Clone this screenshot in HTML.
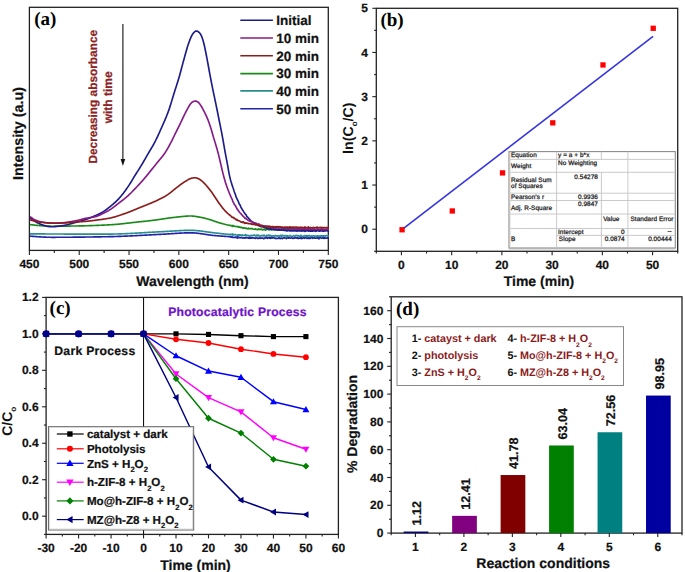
<!DOCTYPE html>
<html><head><meta charset="utf-8"><style>
html,body{margin:0;padding:0;background:#fff;}
svg{display:block;}
</style></head><body>
<svg width="685" height="572" viewBox="0 0 685 572" text-rendering="geometricPrecision">
<rect width="685" height="572" fill="#fff"/>
<rect x="29.4" y="7.3" width="298.9" height="243.1" fill="none" stroke="#222" stroke-width="1.3"/>
<line x1="29.4" y1="250.4" x2="29.4" y2="254.9" stroke="#222" stroke-width="1.1"/>
<line x1="54.31" y1="250.4" x2="54.31" y2="252.9" stroke="#222" stroke-width="1.1"/>
<line x1="79.22" y1="250.4" x2="79.22" y2="254.9" stroke="#222" stroke-width="1.1"/>
<line x1="104.12" y1="250.4" x2="104.12" y2="252.9" stroke="#222" stroke-width="1.1"/>
<line x1="129.03" y1="250.4" x2="129.03" y2="254.9" stroke="#222" stroke-width="1.1"/>
<line x1="153.94" y1="250.4" x2="153.94" y2="252.9" stroke="#222" stroke-width="1.1"/>
<line x1="178.85" y1="250.4" x2="178.85" y2="254.9" stroke="#222" stroke-width="1.1"/>
<line x1="203.76" y1="250.4" x2="203.76" y2="252.9" stroke="#222" stroke-width="1.1"/>
<line x1="228.67" y1="250.4" x2="228.67" y2="254.9" stroke="#222" stroke-width="1.1"/>
<line x1="253.58" y1="250.4" x2="253.58" y2="252.9" stroke="#222" stroke-width="1.1"/>
<line x1="278.48" y1="250.4" x2="278.48" y2="254.9" stroke="#222" stroke-width="1.1"/>
<line x1="303.39" y1="250.4" x2="303.39" y2="252.9" stroke="#222" stroke-width="1.1"/>
<line x1="328.3" y1="250.4" x2="328.3" y2="254.9" stroke="#222" stroke-width="1.1"/>
<text x="29.4" y="267.6" font-size="12" font-weight="bold" fill="#111" text-anchor="middle" font-family="Liberation Sans, sans-serif" stroke="#111" stroke-width="0.22" >450</text>
<text x="79.22" y="267.6" font-size="12" font-weight="bold" fill="#111" text-anchor="middle" font-family="Liberation Sans, sans-serif" stroke="#111" stroke-width="0.22" >500</text>
<text x="129.03" y="267.6" font-size="12" font-weight="bold" fill="#111" text-anchor="middle" font-family="Liberation Sans, sans-serif" stroke="#111" stroke-width="0.22" >550</text>
<text x="178.85" y="267.6" font-size="12" font-weight="bold" fill="#111" text-anchor="middle" font-family="Liberation Sans, sans-serif" stroke="#111" stroke-width="0.22" >600</text>
<text x="228.67" y="267.6" font-size="12" font-weight="bold" fill="#111" text-anchor="middle" font-family="Liberation Sans, sans-serif" stroke="#111" stroke-width="0.22" >650</text>
<text x="278.48" y="267.6" font-size="12" font-weight="bold" fill="#111" text-anchor="middle" font-family="Liberation Sans, sans-serif" stroke="#111" stroke-width="0.22" >700</text>
<text x="328.3" y="267.6" font-size="12" font-weight="bold" fill="#111" text-anchor="middle" font-family="Liberation Sans, sans-serif" stroke="#111" stroke-width="0.22" >750</text>
<text x="192.5" y="285.8" font-size="14" font-weight="bold" fill="#111" text-anchor="middle" font-family="Liberation Sans, sans-serif" stroke="#111" stroke-width="0.22" >Wavelength (nm)</text>
<text x="23.4" y="133.5" font-size="14.3" font-weight="bold" fill="#111" text-anchor="middle" font-family="Liberation Sans, sans-serif" transform="rotate(-90 23.4 133.5)" stroke="#111" stroke-width="0.22" >Intensity (a.u)</text>
<text x="34.2" y="25.1" font-size="19" font-weight="bold" fill="#000" text-anchor="start" font-family="Liberation Serif, serif" >(a)</text>
<path d="M29.9,236.16 L30.4,236.18 L30.9,236.21 L31.4,236.25 L31.9,236.29 L32.4,236.32 L32.9,236.36 L33.4,236.4 L33.9,236.44 L34.4,236.47 L34.9,236.51 L35.4,236.55 L35.9,236.59 L36.4,236.62 L36.9,236.66 L37.4,236.7 L37.9,236.73 L38.4,236.77 L38.9,236.8 L39.4,236.83 L39.9,236.87 L40.4,236.9 L40.9,236.93 L41.4,236.96 L41.9,236.99 L42.4,237.02 L42.9,237.05 L43.4,237.07 L43.9,237.1 L44.4,237.12 L44.9,237.14 L45.4,237.17 L45.9,237.19 L46.4,237.2 L46.9,237.22 L47.4,237.24 L47.9,237.25 L48.4,237.26 L48.9,237.27 L49.4,237.28 L49.9,237.29 L50.4,237.29 L50.9,237.3 L51.4,237.3 L51.9,237.3 L52.4,237.3 L52.9,237.3 L53.4,237.3 L53.9,237.3 L54.4,237.3 L54.9,237.3 L55.4,237.3 L55.9,237.29 L56.4,237.29 L56.9,237.29 L57.4,237.29 L57.9,237.29 L58.4,237.29 L58.9,237.29 L59.4,237.28 L59.9,237.28 L60.4,237.28 L60.9,237.28 L61.4,237.28 L61.9,237.27 L62.4,237.27 L62.9,237.27 L63.4,237.26 L63.9,237.26 L64.4,237.26 L64.9,237.26 L65.4,237.25 L65.9,237.25 L66.4,237.25 L66.9,237.24 L67.4,237.24 L67.9,237.24 L68.4,237.23 L68.9,237.23 L69.4,237.22 L69.9,237.22 L70.4,237.22 L70.9,237.21 L71.4,237.21 L71.9,237.2 L72.4,237.2 L72.9,237.19 L73.4,237.19 L73.9,237.18 L74.4,237.18 L74.9,237.17 L75.4,237.17 L75.9,237.16 L76.4,237.16 L76.9,237.15 L77.4,237.15 L77.9,237.14 L78.4,237.14 L78.9,237.13 L79.4,237.13 L79.9,237.12 L80.4,237.11 L80.9,237.11 L81.4,237.1 L81.9,237.1 L82.4,237.09 L82.9,237.08 L83.4,237.08 L83.9,237.07 L84.4,237.06 L84.9,237.06 L85.4,237.05 L85.9,237.04 L86.4,237.04 L86.9,237.03 L87.4,237.02 L87.9,237.02 L88.4,237.01 L88.9,237 L89.4,237 L89.9,236.99 L90.4,236.98 L90.9,236.97 L91.4,236.97 L91.9,236.96 L92.4,236.95 L92.9,236.95 L93.4,236.94 L93.9,236.93 L94.4,236.92 L94.9,236.91 L95.4,236.91 L95.9,236.9 L96.4,236.89 L96.9,236.88 L97.4,236.88 L97.9,236.87 L98.4,236.86 L98.9,236.85 L99.4,236.84 L99.9,236.84 L100.4,236.83 L100.9,236.82 L101.4,236.81 L101.9,236.8 L102.4,236.79 L102.9,236.79 L103.4,236.78 L103.9,236.77 L104.4,236.76 L104.9,236.75 L105.4,236.74 L105.9,236.74 L106.4,236.73 L106.9,236.72 L107.4,236.71 L107.9,236.7 L108.4,236.69 L108.9,236.68 L109.4,236.67 L109.9,236.66 L110.4,236.65 L110.9,236.64 L111.4,236.63 L111.9,236.62 L112.4,236.61 L112.9,236.59 L113.4,236.58 L113.9,236.57 L114.4,236.55 L114.9,236.54 L115.4,236.52 L115.9,236.51 L116.4,236.49 L116.9,236.48 L117.4,236.46 L117.9,236.44 L118.4,236.42 L118.9,236.41 L119.4,236.39 L119.9,236.37 L120.4,236.35 L120.9,236.33 L121.4,236.31 L121.9,236.3 L122.4,236.28 L122.9,236.26 L123.4,236.23 L123.9,236.21 L124.4,236.19 L124.9,236.17 L125.4,236.15 L125.9,236.13 L126.4,236.11 L126.9,236.08 L127.4,236.06 L127.9,236.04 L128.4,236.02 L128.9,235.99 L129.4,235.97 L129.9,235.95 L130.4,235.92 L130.9,235.9 L131.4,235.87 L131.9,235.85 L132.4,235.82 L132.9,235.8 L133.4,235.77 L133.9,235.75 L134.4,235.72 L134.9,235.7 L135.4,235.67 L135.9,235.65 L136.4,235.62 L136.9,235.6 L137.4,235.57 L137.9,235.54 L138.4,235.52 L138.9,235.49 L139.4,235.46 L139.9,235.44 L140.4,235.41 L140.9,235.38 L141.4,235.36 L141.9,235.33 L142.4,235.3 L142.9,235.28 L143.4,235.25 L143.9,235.22 L144.4,235.2 L144.9,235.17 L145.4,235.14 L145.9,235.11 L146.4,235.09 L146.9,235.06 L147.4,235.03 L147.9,235.01 L148.4,234.98 L148.9,234.95 L149.4,234.92 L149.9,234.9 L150.4,234.87 L150.9,234.84 L151.4,234.82 L151.9,234.79 L152.4,234.76 L152.9,234.74 L153.4,234.71 L153.9,234.68 L154.4,234.66 L154.9,234.63 L155.4,234.61 L155.9,234.58 L156.4,234.55 L156.9,234.53 L157.4,234.5 L157.9,234.48 L158.4,234.45 L158.9,234.43 L159.4,234.4 L159.9,234.38 L160.4,234.35 L160.9,234.33 L161.4,234.3 L161.9,234.28 L162.4,234.25 L162.9,234.23 L163.4,234.2 L163.9,234.17 L164.4,234.14 L164.9,234.12 L165.4,234.09 L165.9,234.06 L166.4,234.02 L166.9,233.99 L167.4,233.96 L167.9,233.93 L168.4,233.9 L168.9,233.86 L169.4,233.83 L169.9,233.79 L170.4,233.76 L170.9,233.73 L171.4,233.69 L171.9,233.66 L172.4,233.62 L172.9,233.59 L173.4,233.56 L173.9,233.52 L174.4,233.49 L174.9,233.46 L175.4,233.42 L175.9,233.39 L176.4,233.36 L176.9,233.33 L177.4,233.29 L177.9,233.26 L178.4,233.23 L178.9,233.2 L179.4,233.17 L179.9,233.15 L180.4,233.12 L180.9,233.09 L181.4,233.07 L181.9,233.04 L182.4,233.02 L182.9,232.99 L183.4,232.97 L183.9,232.95 L184.4,232.93 L184.9,232.91 L185.4,232.9 L185.9,232.88 L186.4,232.87 L186.9,232.85 L187.4,232.84 L187.9,232.83 L188.4,232.82 L188.9,232.81 L189.4,232.81 L189.9,232.8 L190.4,232.8 L190.9,232.8 L191.4,232.81 L191.9,232.82 L192.4,232.83 L192.9,232.85 L193.4,232.88 L193.9,232.91 L194.4,232.94 L194.9,232.98 L195.4,233.02 L195.9,233.06 L196.4,233.11 L196.9,233.16 L197.4,233.22 L197.9,233.28 L198.4,233.34 L198.9,233.4 L199.4,233.47 L199.9,233.53 L200.4,233.6 L200.9,233.68 L201.4,233.75 L201.9,233.82 L202.4,233.9 L202.9,233.98 L203.4,234.05 L203.9,234.13 L204.4,234.21 L204.9,234.29 L205.4,234.37 L205.9,234.45 L206.4,234.52 L206.9,234.6 L207.4,234.68 L207.9,234.75 L208.4,234.83 L208.9,234.9 L209.4,234.97 L209.9,235.04 L210.4,235.1 L210.9,235.17 L211.4,235.23 L211.9,235.29 L212.4,235.35 L212.9,235.4 L213.4,235.45 L213.9,235.5 L214.4,235.54 L214.9,235.59 L215.4,235.63 L215.9,235.67 L216.4,235.71 L216.9,235.76 L217.4,235.8 L217.9,235.84 L218.4,235.88 L218.9,235.91 L219.4,235.95 L219.9,235.99 L220.4,236.03 L220.9,236.06 L221.4,236.1 L221.9,236.14 L222.4,236.17 L222.9,236.21 L223.4,236.24 L223.9,236.28 L224.4,236.31 L224.9,236.35 L225.4,236.38 L225.9,236.42 L226.4,236.45 L226.9,236.49 L227.4,236.52 L227.9,236.55 L228.4,236.59 L228.9,236.62 L229.4,236.66 L229.9,236.69 L230.4,236.68 L230.9,237.27 L231.4,236.97 L231.9,236.59 L232.4,237.38 L232.9,237.42 L233.4,237.31 L233.9,237.28 L234.4,237.45 L234.9,237.28 L235.4,237.4 L235.9,236.9 L236.4,237.74 L236.9,237.34 L237.4,238.01 L237.9,236.63 L238.4,237.64 L238.9,237.78 L239.4,237.35 L239.9,237.67 L240.4,237.82 L240.9,237.8 L241.4,237.44 L241.9,237.62 L242.4,238.06 L242.9,238.18 L243.4,237.8 L243.9,237.83 L244.4,237.9 L244.9,238.22 L245.4,237.51 L245.9,237.44 L246.4,237.97 L246.9,237.55 L247.4,237.75 L247.9,238 L248.4,238.15 L248.9,237.61 L249.4,238.28 L249.9,237.38 L250.4,238.19 L250.9,237.45 L251.4,237.55 L251.9,238.22 L252.4,237.86 L252.9,237.72 L253.4,237.84 L253.9,238.16 L254.4,237.98 L254.9,237.99 L255.4,238.37 L255.9,237.75 L256.4,237.83 L256.9,237.82 L257.4,238.41 L257.9,238.35 L258.4,238.45 L258.9,237.99 L259.4,237.94 L259.9,238.3 L260.4,237.86 L260.9,238.29 L261.4,238.25 L261.9,237.76 L262.4,237.97 L262.9,237.96 L263.4,238.61 L263.9,238.91 L264.4,237.96 L264.9,238 L265.4,237.2 L265.9,238.07 L266.4,238 L266.9,237.62 L267.4,238.27 L267.9,237.45 L268.4,237.92 L268.9,238.05 L269.4,237.56 L269.9,238.3 L270.4,238.37 L270.9,237.51 L271.4,237.51 L271.9,238.21 L272.4,237.99 L272.9,237.57 L273.4,237.89 L273.9,237.96 L274.4,237.95 L274.9,238.29 L275.4,238.13 L275.9,238.62 L276.4,238.48 L276.9,238.23 L277.4,238.37 L277.9,238.46 L278.4,238.24 L278.9,237.57 L279.4,238.3 L279.9,238.02 L280.4,238.56 L280.9,238.03 L281.4,238.18 L281.9,238.11 L282.4,238.58 L282.9,238.05 L283.4,237.9 L283.9,238.1 L284.4,237.84 L284.9,238.05 L285.4,237.99 L285.9,238.09 L286.4,238.66 L286.9,237.85 L287.4,238 L287.9,237.92 L288.4,238.22 L288.9,237.57 L289.4,237.74 L289.9,237.97 L290.4,238.18 L290.9,237.97 L291.4,237.81 L291.9,237.68 L292.4,238.16 L292.9,238.49 L293.4,238.1 L293.9,238.05 L294.4,238.14 L294.9,237.65 L295.4,237.87 L295.9,237.89 L296.4,238.08 L296.9,237.97 L297.4,237.55 L297.9,238.37 L298.4,238.57 L298.9,237.88 L299.4,238.11 L299.9,238.07 L300.4,238.25 L300.9,237.45 L301.4,238.54 L301.9,237.81 L302.4,238.41 L302.9,238 L303.4,237.83 L303.9,237.92 L304.4,238.28 L304.9,237.66 L305.4,237.83 L305.9,237.79 L306.4,237.36 L306.9,238.42 L307.4,238.16 L307.9,237.95 L308.4,238.36 L308.9,237.62 L309.4,237.93 L309.9,238.56 L310.4,238.3 L310.9,237.17 L311.4,236.78 L311.9,237.59 L312.4,238.32 L312.9,237.78 L313.4,237.87 L313.9,238.16 L314.4,237.63 L314.9,238.02 L315.4,238.22 L315.9,238.1 L316.4,238.08 L316.9,237.73 L317.4,238.11 L317.9,237.78 L318.4,238.39 L318.9,238.83 L319.4,237.67 L319.9,237.17 L320.4,237.78 L320.9,238.06 L321.4,238.29 L321.9,238.3 L322.4,237.65 L322.9,237.64 L323.4,238.36 L323.9,237.53 L324.4,238.29 L324.9,237.83 L325.4,238.18 L325.9,238.15 L326.4,238.18 L326.9,238.19 L327.4,237.56 L327.9,238 L328.4,237.9 L328.9,238" fill="none" stroke="#2323a8" stroke-width="1.65" stroke-linejoin="round"/>
<path d="M29.9,233.81 L30.4,233.81 L30.9,233.82 L31.4,233.82 L31.9,233.83 L32.4,233.83 L32.9,233.84 L33.4,233.84 L33.9,233.85 L34.4,233.85 L34.9,233.86 L35.4,233.86 L35.9,233.87 L36.4,233.87 L36.9,233.88 L37.4,233.88 L37.9,233.89 L38.4,233.89 L38.9,233.9 L39.4,233.9 L39.9,233.9 L40.4,233.91 L40.9,233.91 L41.4,233.92 L41.9,233.92 L42.4,233.93 L42.9,233.93 L43.4,233.93 L43.9,233.94 L44.4,233.94 L44.9,233.94 L45.4,233.95 L45.9,233.95 L46.4,233.96 L46.9,233.96 L47.4,233.96 L47.9,233.97 L48.4,233.97 L48.9,233.97 L49.4,233.98 L49.9,233.98 L50.4,233.98 L50.9,233.98 L51.4,233.99 L51.9,233.99 L52.4,233.99 L52.9,234 L53.4,234 L53.9,234 L54.4,234 L54.9,234.01 L55.4,234.01 L55.9,234.01 L56.4,234.02 L56.9,234.02 L57.4,234.02 L57.9,234.02 L58.4,234.02 L58.9,234.03 L59.4,234.03 L59.9,234.03 L60.4,234.03 L60.9,234.04 L61.4,234.04 L61.9,234.04 L62.4,234.04 L62.9,234.04 L63.4,234.05 L63.9,234.05 L64.4,234.05 L64.9,234.05 L65.4,234.05 L65.9,234.05 L66.4,234.06 L66.9,234.06 L67.4,234.06 L67.9,234.06 L68.4,234.06 L68.9,234.06 L69.4,234.06 L69.9,234.07 L70.4,234.07 L70.9,234.07 L71.4,234.07 L71.9,234.07 L72.4,234.07 L72.9,234.07 L73.4,234.07 L73.9,234.08 L74.4,234.08 L74.9,234.08 L75.4,234.08 L75.9,234.08 L76.4,234.08 L76.9,234.08 L77.4,234.08 L77.9,234.08 L78.4,234.08 L78.9,234.08 L79.4,234.09 L79.9,234.09 L80.4,234.09 L80.9,234.09 L81.4,234.09 L81.9,234.09 L82.4,234.09 L82.9,234.09 L83.4,234.09 L83.9,234.09 L84.4,234.09 L84.9,234.09 L85.4,234.09 L85.9,234.09 L86.4,234.09 L86.9,234.09 L87.4,234.09 L87.9,234.09 L88.4,234.1 L88.9,234.1 L89.4,234.1 L89.9,234.1 L90.4,234.1 L90.9,234.1 L91.4,234.1 L91.9,234.1 L92.4,234.1 L92.9,234.1 L93.4,234.1 L93.9,234.1 L94.4,234.1 L94.9,234.1 L95.4,234.1 L95.9,234.1 L96.4,234.1 L96.9,234.1 L97.4,234.1 L97.9,234.1 L98.4,234.1 L98.9,234.1 L99.4,234.1 L99.9,234.1 L100.4,234.1 L100.9,234.1 L101.4,234.1 L101.9,234.1 L102.4,234.1 L102.9,234.1 L103.4,234.1 L103.9,234.1 L104.4,234.1 L104.9,234.1 L105.4,234.1 L105.9,234.1 L106.4,234.1 L106.9,234.1 L107.4,234.1 L107.9,234.1 L108.4,234.1 L108.9,234.1 L109.4,234.1 L109.9,234.09 L110.4,234.09 L110.9,234.09 L111.4,234.08 L111.9,234.08 L112.4,234.07 L112.9,234.06 L113.4,234.05 L113.9,234.04 L114.4,234.04 L114.9,234.03 L115.4,234.02 L115.9,234 L116.4,233.99 L116.9,233.98 L117.4,233.97 L117.9,233.95 L118.4,233.94 L118.9,233.92 L119.4,233.91 L119.9,233.89 L120.4,233.87 L120.9,233.86 L121.4,233.84 L121.9,233.82 L122.4,233.8 L122.9,233.78 L123.4,233.76 L123.9,233.74 L124.4,233.72 L124.9,233.7 L125.4,233.68 L125.9,233.66 L126.4,233.64 L126.9,233.61 L127.4,233.59 L127.9,233.57 L128.4,233.54 L128.9,233.52 L129.4,233.49 L129.9,233.47 L130.4,233.44 L130.9,233.42 L131.4,233.39 L131.9,233.36 L132.4,233.34 L132.9,233.31 L133.4,233.28 L133.9,233.26 L134.4,233.23 L134.9,233.2 L135.4,233.17 L135.9,233.15 L136.4,233.12 L136.9,233.09 L137.4,233.06 L137.9,233.03 L138.4,233 L138.9,232.97 L139.4,232.94 L139.9,232.91 L140.4,232.88 L140.9,232.85 L141.4,232.83 L141.9,232.8 L142.4,232.77 L142.9,232.74 L143.4,232.71 L143.9,232.68 L144.4,232.65 L144.9,232.62 L145.4,232.59 L145.9,232.56 L146.4,232.53 L146.9,232.5 L147.4,232.47 L147.9,232.44 L148.4,232.41 L148.9,232.38 L149.4,232.35 L149.9,232.32 L150.4,232.29 L150.9,232.26 L151.4,232.23 L151.9,232.2 L152.4,232.18 L152.9,232.15 L153.4,232.12 L153.9,232.09 L154.4,232.06 L154.9,232.04 L155.4,232.01 L155.9,231.98 L156.4,231.96 L156.9,231.93 L157.4,231.9 L157.9,231.88 L158.4,231.85 L158.9,231.83 L159.4,231.8 L159.9,231.78 L160.4,231.75 L160.9,231.73 L161.4,231.7 L161.9,231.68 L162.4,231.66 L162.9,231.63 L163.4,231.61 L163.9,231.58 L164.4,231.55 L164.9,231.52 L165.4,231.5 L165.9,231.47 L166.4,231.44 L166.9,231.41 L167.4,231.38 L167.9,231.35 L168.4,231.32 L168.9,231.29 L169.4,231.25 L169.9,231.22 L170.4,231.19 L170.9,231.16 L171.4,231.13 L171.9,231.1 L172.4,231.06 L172.9,231.03 L173.4,231 L173.9,230.97 L174.4,230.94 L174.9,230.91 L175.4,230.88 L175.9,230.85 L176.4,230.82 L176.9,230.79 L177.4,230.76 L177.9,230.73 L178.4,230.7 L178.9,230.67 L179.4,230.65 L179.9,230.62 L180.4,230.59 L180.9,230.57 L181.4,230.55 L181.9,230.52 L182.4,230.5 L182.9,230.48 L183.4,230.46 L183.9,230.44 L184.4,230.42 L184.9,230.4 L185.4,230.39 L185.9,230.37 L186.4,230.36 L186.9,230.35 L187.4,230.34 L187.9,230.33 L188.4,230.32 L188.9,230.31 L189.4,230.31 L189.9,230.3 L190.4,230.3 L190.9,230.3 L191.4,230.31 L191.9,230.32 L192.4,230.33 L192.9,230.34 L193.4,230.36 L193.9,230.39 L194.4,230.42 L194.9,230.45 L195.4,230.48 L195.9,230.52 L196.4,230.56 L196.9,230.61 L197.4,230.65 L197.9,230.7 L198.4,230.76 L198.9,230.81 L199.4,230.87 L199.9,230.93 L200.4,230.99 L200.9,231.05 L201.4,231.12 L201.9,231.18 L202.4,231.25 L202.9,231.32 L203.4,231.39 L203.9,231.46 L204.4,231.53 L204.9,231.6 L205.4,231.67 L205.9,231.74 L206.4,231.82 L206.9,231.89 L207.4,231.96 L207.9,232.03 L208.4,232.1 L208.9,232.17 L209.4,232.24 L209.9,232.31 L210.4,232.37 L210.9,232.44 L211.4,232.5 L211.9,232.57 L212.4,232.63 L212.9,232.69 L213.4,232.74 L213.9,232.8 L214.4,232.85 L214.9,232.91 L215.4,232.97 L215.9,233.02 L216.4,233.08 L216.9,233.14 L217.4,233.19 L217.9,233.25 L218.4,233.31 L218.9,233.37 L219.4,233.43 L219.9,233.49 L220.4,233.55 L220.9,233.6 L221.4,233.66 L221.9,233.72 L222.4,233.78 L222.9,233.83 L223.4,233.89 L223.9,233.94 L224.4,234 L224.9,234.05 L225.4,234.1 L225.9,234.15 L226.4,234.2 L226.9,234.25 L227.4,234.29 L227.9,234.34 L228.4,234.38 L228.9,234.42 L229.4,234.46 L229.9,234.49 L230.4,234.17 L230.9,234.85 L231.4,234.29 L231.9,234.28 L232.4,233.86 L232.9,235.14 L233.4,234.93 L233.9,234.47 L234.4,234.77 L234.9,234.81 L235.4,234.48 L235.9,234.81 L236.4,235.03 L236.9,235.16 L237.4,235.44 L237.9,235.04 L238.4,234.89 L238.9,235.23 L239.4,234.89 L239.9,234.7 L240.4,235.57 L240.9,235.06 L241.4,235.26 L241.9,235.47 L242.4,234.88 L242.9,235.51 L243.4,235.47 L243.9,235.3 L244.4,235.49 L244.9,235.11 L245.4,234.62 L245.9,235.31 L246.4,235.1 L246.9,235.74 L247.4,235.55 L247.9,235.28 L248.4,235.49 L248.9,235.96 L249.4,235.89 L249.9,235.63 L250.4,235.66 L250.9,235.42 L251.4,235.48 L251.9,235.74 L252.4,235.5 L252.9,235.65 L253.4,235.16 L253.9,234.97 L254.4,234.97 L254.9,235.42 L255.4,236.04 L255.9,236 L256.4,235.24 L256.9,235.05 L257.4,235.88 L257.9,235.77 L258.4,235.13 L258.9,235.99 L259.4,235.68 L259.9,236.09 L260.4,235.75 L260.9,235.95 L261.4,235.76 L261.9,235.32 L262.4,235.58 L262.9,235.43 L263.4,235.96 L263.9,235.32 L264.4,235.14 L264.9,235.92 L265.4,236.09 L265.9,236.2 L266.4,236.08 L266.9,235.18 L267.4,235.47 L267.9,235.52 L268.4,235.71 L268.9,234.97 L269.4,235.73 L269.9,235.83 L270.4,235.41 L270.9,235.78 L271.4,236.16 L271.9,235.77 L272.4,236.13 L272.9,236.12 L273.4,235.91 L273.9,235.9 L274.4,235.64 L274.9,236.21 L275.4,235.62 L275.9,235.54 L276.4,236.04 L276.9,235.54 L277.4,235.95 L277.9,236.17 L278.4,235.84 L278.9,235.85 L279.4,236.14 L279.9,236.09 L280.4,235.29 L280.9,235.37 L281.4,236.3 L281.9,235.97 L282.4,235.11 L282.9,235.37 L283.4,235.86 L283.9,235.51 L284.4,236.02 L284.9,235.89 L285.4,236.04 L285.9,235.46 L286.4,236.09 L286.9,236.56 L287.4,235.6 L287.9,236.34 L288.4,236.23 L288.9,236.11 L289.4,235.87 L289.9,235.49 L290.4,235.59 L290.9,236.17 L291.4,236.25 L291.9,236.33 L292.4,236.25 L292.9,236.23 L293.4,235.76 L293.9,235.5 L294.4,235.99 L294.9,236.1 L295.4,235.96 L295.9,235.4 L296.4,235.75 L296.9,235.42 L297.4,235.99 L297.9,235.57 L298.4,235.88 L298.9,236.06 L299.4,235.99 L299.9,236.43 L300.4,235.56 L300.9,235.19 L301.4,236.29 L301.9,236.45 L302.4,236.46 L302.9,236.06 L303.4,236.15 L303.9,236.01 L304.4,235.51 L304.9,235.77 L305.4,236.15 L305.9,235.77 L306.4,236.64 L306.9,235.44 L307.4,235.83 L307.9,236.37 L308.4,235.77 L308.9,235.59 L309.4,235.51 L309.9,235.73 L310.4,236.52 L310.9,236.13 L311.4,236.17 L311.9,235.81 L312.4,236.29 L312.9,236.03 L313.4,235.67 L313.9,235.84 L314.4,236.07 L314.9,236.41 L315.4,235.98 L315.9,236.18 L316.4,236.71 L316.9,235.72 L317.4,235.57 L317.9,236.35 L318.4,236.16 L318.9,235.97 L319.4,236.1 L319.9,235.89 L320.4,236.19 L320.9,235.89 L321.4,236.29 L321.9,235.6 L322.4,235.72 L322.9,236.05 L323.4,235.85 L323.9,236.25 L324.4,236 L324.9,235.82 L325.4,236.09 L325.9,235.83 L326.4,235.47 L326.9,235.62 L327.4,235.73 L327.9,235.85 L328.4,236.05 L328.9,236.33" fill="none" stroke="#2a8e8e" stroke-width="1.65" stroke-linejoin="round"/>
<path d="M29.9,224.6 L30.4,224.64 L30.9,224.7 L31.4,224.76 L31.9,224.82 L32.4,224.88 L32.9,224.94 L33.4,225 L33.9,225.06 L34.4,225.11 L34.9,225.17 L35.4,225.22 L35.9,225.27 L36.4,225.32 L36.9,225.37 L37.4,225.41 L37.9,225.46 L38.4,225.5 L38.9,225.54 L39.4,225.58 L39.9,225.61 L40.4,225.65 L40.9,225.69 L41.4,225.72 L41.9,225.76 L42.4,225.79 L42.9,225.83 L43.4,225.86 L43.9,225.9 L44.4,225.93 L44.9,225.96 L45.4,225.99 L45.9,226.02 L46.4,226.05 L46.9,226.07 L47.4,226.1 L47.9,226.12 L48.4,226.14 L48.9,226.16 L49.4,226.17 L49.9,226.18 L50.4,226.19 L50.9,226.19 L51.4,226.2 L51.9,226.2 L52.4,226.2 L52.9,226.2 L53.4,226.2 L53.9,226.2 L54.4,226.2 L54.9,226.19 L55.4,226.19 L55.9,226.19 L56.4,226.19 L56.9,226.18 L57.4,226.18 L57.9,226.18 L58.4,226.18 L58.9,226.17 L59.4,226.17 L59.9,226.17 L60.4,226.16 L60.9,226.16 L61.4,226.15 L61.9,226.15 L62.4,226.14 L62.9,226.14 L63.4,226.13 L63.9,226.13 L64.4,226.12 L64.9,226.12 L65.4,226.11 L65.9,226.11 L66.4,226.1 L66.9,226.1 L67.4,226.09 L67.9,226.09 L68.4,226.08 L68.9,226.07 L69.4,226.07 L69.9,226.06 L70.4,226.06 L70.9,226.05 L71.4,226.04 L71.9,226.04 L72.4,226.03 L72.9,226.02 L73.4,226.02 L73.9,226.01 L74.4,226 L74.9,226 L75.4,225.99 L75.9,225.98 L76.4,225.98 L76.9,225.97 L77.4,225.96 L77.9,225.95 L78.4,225.94 L78.9,225.93 L79.4,225.92 L79.9,225.91 L80.4,225.9 L80.9,225.89 L81.4,225.88 L81.9,225.87 L82.4,225.86 L82.9,225.85 L83.4,225.83 L83.9,225.82 L84.4,225.81 L84.9,225.8 L85.4,225.78 L85.9,225.77 L86.4,225.76 L86.9,225.74 L87.4,225.73 L87.9,225.71 L88.4,225.7 L88.9,225.68 L89.4,225.67 L89.9,225.65 L90.4,225.63 L90.9,225.62 L91.4,225.6 L91.9,225.58 L92.4,225.57 L92.9,225.55 L93.4,225.53 L93.9,225.51 L94.4,225.49 L94.9,225.47 L95.4,225.46 L95.9,225.44 L96.4,225.42 L96.9,225.4 L97.4,225.38 L97.9,225.36 L98.4,225.34 L98.9,225.32 L99.4,225.29 L99.9,225.27 L100.4,225.25 L100.9,225.23 L101.4,225.21 L101.9,225.19 L102.4,225.16 L102.9,225.14 L103.4,225.12 L103.9,225.09 L104.4,225.07 L104.9,225.05 L105.4,225.02 L105.9,225 L106.4,224.98 L106.9,224.95 L107.4,224.93 L107.9,224.9 L108.4,224.88 L108.9,224.85 L109.4,224.83 L109.9,224.8 L110.4,224.77 L110.9,224.74 L111.4,224.71 L111.9,224.68 L112.4,224.65 L112.9,224.62 L113.4,224.58 L113.9,224.54 L114.4,224.51 L114.9,224.47 L115.4,224.43 L115.9,224.38 L116.4,224.34 L116.9,224.3 L117.4,224.25 L117.9,224.21 L118.4,224.16 L118.9,224.11 L119.4,224.06 L119.9,224.01 L120.4,223.96 L120.9,223.91 L121.4,223.86 L121.9,223.8 L122.4,223.75 L122.9,223.7 L123.4,223.64 L123.9,223.59 L124.4,223.53 L124.9,223.47 L125.4,223.42 L125.9,223.36 L126.4,223.3 L126.9,223.25 L127.4,223.19 L127.9,223.13 L128.4,223.07 L128.9,223.01 L129.4,222.95 L129.9,222.9 L130.4,222.84 L130.9,222.78 L131.4,222.72 L131.9,222.66 L132.4,222.6 L132.9,222.54 L133.4,222.49 L133.9,222.43 L134.4,222.37 L134.9,222.31 L135.4,222.26 L135.9,222.2 L136.4,222.15 L136.9,222.09 L137.4,222.03 L137.9,221.98 L138.4,221.93 L138.9,221.87 L139.4,221.82 L139.9,221.77 L140.4,221.72 L140.9,221.67 L141.4,221.62 L141.9,221.57 L142.4,221.51 L142.9,221.46 L143.4,221.41 L143.9,221.36 L144.4,221.31 L144.9,221.26 L145.4,221.21 L145.9,221.16 L146.4,221.11 L146.9,221.05 L147.4,221 L147.9,220.95 L148.4,220.89 L148.9,220.84 L149.4,220.78 L149.9,220.73 L150.4,220.67 L150.9,220.61 L151.4,220.55 L151.9,220.49 L152.4,220.43 L152.9,220.36 L153.4,220.3 L153.9,220.23 L154.4,220.17 L154.9,220.1 L155.4,220.03 L155.9,219.96 L156.4,219.89 L156.9,219.82 L157.4,219.74 L157.9,219.67 L158.4,219.6 L158.9,219.52 L159.4,219.45 L159.9,219.37 L160.4,219.3 L160.9,219.22 L161.4,219.14 L161.9,219.07 L162.4,218.99 L162.9,218.92 L163.4,218.84 L163.9,218.77 L164.4,218.69 L164.9,218.62 L165.4,218.54 L165.9,218.47 L166.4,218.39 L166.9,218.32 L167.4,218.25 L167.9,218.18 L168.4,218.11 L168.9,218.04 L169.4,217.97 L169.9,217.9 L170.4,217.84 L170.9,217.77 L171.4,217.71 L171.9,217.65 L172.4,217.59 L172.9,217.53 L173.4,217.47 L173.9,217.42 L174.4,217.36 L174.9,217.31 L175.4,217.26 L175.9,217.21 L176.4,217.15 L176.9,217.1 L177.4,217.04 L177.9,216.99 L178.4,216.93 L178.9,216.88 L179.4,216.82 L179.9,216.77 L180.4,216.71 L180.9,216.66 L181.4,216.6 L181.9,216.55 L182.4,216.5 L182.9,216.45 L183.4,216.4 L183.9,216.36 L184.4,216.31 L184.9,216.27 L185.4,216.23 L185.9,216.19 L186.4,216.16 L186.9,216.13 L187.4,216.1 L187.9,216.08 L188.4,216.05 L188.9,216.04 L189.4,216.02 L189.9,216.01 L190.4,216.01 L190.9,216.01 L191.4,216.02 L191.9,216.04 L192.4,216.07 L192.9,216.11 L193.4,216.15 L193.9,216.21 L194.4,216.27 L194.9,216.34 L195.4,216.41 L195.9,216.49 L196.4,216.57 L196.9,216.65 L197.4,216.74 L197.9,216.83 L198.4,216.92 L198.9,217.01 L199.4,217.1 L199.9,217.18 L200.4,217.27 L200.9,217.37 L201.4,217.47 L201.9,217.57 L202.4,217.68 L202.9,217.79 L203.4,217.9 L203.9,218.02 L204.4,218.14 L204.9,218.27 L205.4,218.4 L205.9,218.53 L206.4,218.67 L206.9,218.8 L207.4,218.94 L207.9,219.08 L208.4,219.22 L208.9,219.36 L209.4,219.5 L209.9,219.65 L210.4,219.81 L210.9,219.96 L211.4,220.13 L211.9,220.3 L212.4,220.47 L212.9,220.65 L213.4,220.83 L213.9,221.01 L214.4,221.19 L214.9,221.37 L215.4,221.55 L215.9,221.72 L216.4,221.9 L216.9,222.07 L217.4,222.23 L217.9,222.39 L218.4,222.55 L218.9,222.7 L219.4,222.84 L219.9,222.98 L220.4,223.12 L220.9,223.26 L221.4,223.4 L221.9,223.54 L222.4,223.67 L222.9,223.81 L223.4,223.94 L223.9,224.07 L224.4,224.2 L224.9,224.32 L225.4,224.45 L225.9,224.57 L226.4,224.69 L226.9,224.81 L227.4,224.93 L227.9,225.04 L228.4,225.16 L228.9,225.27 L229.4,225.37 L229.9,225.48 L230.4,225.41 L230.9,225.23 L231.4,225.78 L231.9,226.23 L232.4,226.38 L232.9,225.43 L233.4,225.96 L233.9,226.15 L234.4,226.07 L234.9,226.46 L235.4,226.51 L235.9,226.46 L236.4,226.66 L236.9,226.36 L237.4,226.59 L237.9,226.69 L238.4,227.22 L238.9,226.66 L239.4,227.09 L239.9,227.42 L240.4,227.28 L240.9,227.57 L241.4,227.28 L241.9,227.62 L242.4,227.81 L242.9,228.21 L243.4,227.9 L243.9,228.14 L244.4,227.85 L244.9,227.94 L245.4,228.37 L245.9,228.19 L246.4,228.46 L246.9,228.34 L247.4,228.76 L247.9,228.89 L248.4,228.14 L248.9,228.88 L249.4,228.59 L249.9,228.67 L250.4,228.59 L250.9,228.86 L251.4,228.47 L251.9,228.63 L252.4,228.68 L252.9,229 L253.4,229.22 L253.9,229.23 L254.4,229.19 L254.9,229 L255.4,228.76 L255.9,229.34 L256.4,229.32 L256.9,229.4 L257.4,229.7 L257.9,229.32 L258.4,229.33 L258.9,228.82 L259.4,229.55 L259.9,229.4 L260.4,229.24 L260.9,229.52 L261.4,229.17 L261.9,229.3 L262.4,229.93 L262.9,229.63 L263.4,229.68 L263.9,229.64 L264.4,229.62 L264.9,229.51 L265.4,230.04 L265.9,229.45 L266.4,229.66 L266.9,229.43 L267.4,229.4 L267.9,228.88 L268.4,229.01 L268.9,229.89 L269.4,229.87 L269.9,229.4 L270.4,229.5 L270.9,229.67 L271.4,229.27 L271.9,229.96 L272.4,229.27 L272.9,229.35 L273.4,228.84 L273.9,229.92 L274.4,229.55 L274.9,229.95 L275.4,229.3 L275.9,229.64 L276.4,229.57 L276.9,229.61 L277.4,230.08 L277.9,230.13 L278.4,229.91 L278.9,229.47 L279.4,229.8 L279.9,229.91 L280.4,229.72 L280.9,229.72 L281.4,229.71 L281.9,229.36 L282.4,229.65 L282.9,229.99 L283.4,229.35 L283.9,229.62 L284.4,229.81 L284.9,229.26 L285.4,229.57 L285.9,229.19 L286.4,229.46 L286.9,229.26 L287.4,229.39 L287.9,229.5 L288.4,229.55 L288.9,229.57 L289.4,229.02 L289.9,230.02 L290.4,229.56 L290.9,229.36 L291.4,229.48 L291.9,229.71 L292.4,229.39 L292.9,229.54 L293.4,229.52 L293.9,229.78 L294.4,229.46 L294.9,229.76 L295.4,229.74 L295.9,229.61 L296.4,229.96 L296.9,229.66 L297.4,229.36 L297.9,229.73 L298.4,229.69 L298.9,229.65 L299.4,229.72 L299.9,230.25 L300.4,229.72 L300.9,229.78 L301.4,229.61 L301.9,230 L302.4,229.66 L302.9,229.47 L303.4,229.37 L303.9,229.81 L304.4,229.86 L304.9,229.28 L305.4,229.5 L305.9,229.84 L306.4,229.94 L306.9,229.35 L307.4,229.58 L307.9,229.89 L308.4,229.55 L308.9,229.57 L309.4,229.55 L309.9,229.36 L310.4,229.7 L310.9,229.76 L311.4,229.34 L311.9,229.71 L312.4,229.97 L312.9,229.74 L313.4,229.93 L313.9,229.55 L314.4,230.03 L314.9,229.5 L315.4,230.16 L315.9,229.58 L316.4,229.51 L316.9,229.47 L317.4,229.59 L317.9,229.57 L318.4,229.52 L318.9,229.61 L319.4,229.86 L319.9,229.92 L320.4,229.61 L320.9,230.01 L321.4,229.45 L321.9,229.44 L322.4,229.42 L322.9,229.85 L323.4,229.31 L323.9,229.35 L324.4,230.02 L324.9,230.13 L325.4,230.03 L325.9,229.33 L326.4,229.7 L326.9,229.91 L327.4,229.72 L327.9,229.29 L328.4,229.61 L328.9,229.27" fill="none" stroke="#1a8a1a" stroke-width="1.65" stroke-linejoin="round"/>
<path d="M29.9,217.68 L30.4,217.94 L30.9,218.29 L31.4,218.69 L31.9,219.09 L32.4,219.49 L32.9,219.87 L33.4,220.25 L33.9,220.62 L34.4,220.98 L34.9,221.32 L35.4,221.66 L35.9,221.97 L36.4,222.28 L36.9,222.57 L37.4,222.84 L37.9,223.1 L38.4,223.34 L38.9,223.56 L39.4,223.77 L39.9,223.97 L40.4,224.15 L40.9,224.34 L41.4,224.52 L41.9,224.7 L42.4,224.87 L42.9,225.04 L43.4,225.21 L43.9,225.38 L44.4,225.54 L44.9,225.69 L45.4,225.83 L45.9,225.97 L46.4,226.1 L46.9,226.22 L47.4,226.33 L47.9,226.43 L48.4,226.52 L48.9,226.6 L49.4,226.66 L49.9,226.71 L50.4,226.75 L50.9,226.78 L51.4,226.79 L51.9,226.79 L52.4,226.78 L52.9,226.76 L53.4,226.74 L53.9,226.71 L54.4,226.68 L54.9,226.64 L55.4,226.6 L55.9,226.55 L56.4,226.5 L56.9,226.44 L57.4,226.38 L57.9,226.32 L58.4,226.26 L58.9,226.19 L59.4,226.12 L59.9,226.05 L60.4,225.98 L60.9,225.91 L61.4,225.84 L61.9,225.76 L62.4,225.69 L62.9,225.61 L63.4,225.53 L63.9,225.45 L64.4,225.36 L64.9,225.26 L65.4,225.16 L65.9,225.06 L66.4,224.94 L66.9,224.83 L67.4,224.7 L67.9,224.58 L68.4,224.45 L68.9,224.32 L69.4,224.18 L69.9,224.04 L70.4,223.91 L70.9,223.77 L71.4,223.63 L71.9,223.48 L72.4,223.34 L72.9,223.2 L73.4,223.06 L73.9,222.92 L74.4,222.78 L74.9,222.65 L75.4,222.51 L75.9,222.37 L76.4,222.23 L76.9,222.1 L77.4,221.96 L77.9,221.82 L78.4,221.68 L78.9,221.53 L79.4,221.39 L79.9,221.24 L80.4,221.1 L80.9,220.95 L81.4,220.8 L81.9,220.65 L82.4,220.5 L82.9,220.34 L83.4,220.18 L83.9,220.03 L84.4,219.86 L84.9,219.7 L85.4,219.54 L85.9,219.37 L86.4,219.2 L86.9,219.02 L87.4,218.85 L87.9,218.67 L88.4,218.48 L88.9,218.3 L89.4,218.11 L89.9,217.91 L90.4,217.72 L90.9,217.52 L91.4,217.32 L91.9,217.11 L92.4,216.91 L92.9,216.7 L93.4,216.49 L93.9,216.27 L94.4,216.06 L94.9,215.84 L95.4,215.62 L95.9,215.4 L96.4,215.18 L96.9,214.96 L97.4,214.73 L97.9,214.5 L98.4,214.27 L98.9,214.03 L99.4,213.79 L99.9,213.54 L100.4,213.29 L100.9,213.02 L101.4,212.75 L101.9,212.48 L102.4,212.19 L102.9,211.89 L103.4,211.58 L103.9,211.26 L104.4,210.93 L104.9,210.58 L105.4,210.23 L105.9,209.87 L106.4,209.5 L106.9,209.13 L107.4,208.75 L107.9,208.36 L108.4,207.97 L108.9,207.58 L109.4,207.18 L109.9,206.78 L110.4,206.37 L110.9,205.97 L111.4,205.56 L111.9,205.14 L112.4,204.72 L112.9,204.29 L113.4,203.86 L113.9,203.42 L114.4,202.98 L114.9,202.53 L115.4,202.07 L115.9,201.6 L116.4,201.12 L116.9,200.63 L117.4,200.13 L117.9,199.62 L118.4,199.1 L118.9,198.57 L119.4,198.02 L119.9,197.46 L120.4,196.88 L120.9,196.29 L121.4,195.69 L121.9,195.07 L122.4,194.44 L122.9,193.8 L123.4,193.15 L123.9,192.49 L124.4,191.82 L124.9,191.14 L125.4,190.45 L125.9,189.75 L126.4,189.05 L126.9,188.35 L127.4,187.63 L127.9,186.9 L128.4,186.16 L128.9,185.4 L129.4,184.63 L129.9,183.84 L130.4,183.03 L130.9,182.22 L131.4,181.4 L131.9,180.57 L132.4,179.74 L132.9,178.91 L133.4,178.08 L133.9,177.25 L134.4,176.42 L134.9,175.6 L135.4,174.79 L135.9,173.99 L136.4,173.2 L136.9,172.42 L137.4,171.64 L137.9,170.87 L138.4,170.1 L138.9,169.33 L139.4,168.54 L139.9,167.75 L140.4,166.94 L140.9,166.12 L141.4,165.29 L141.9,164.45 L142.4,163.6 L142.9,162.75 L143.4,161.89 L143.9,161.03 L144.4,160.17 L144.9,159.3 L145.4,158.43 L145.9,157.56 L146.4,156.69 L146.9,155.82 L147.4,154.95 L147.9,154.08 L148.4,153.22 L148.9,152.37 L149.4,151.52 L149.9,150.68 L150.4,149.84 L150.9,149.01 L151.4,148.18 L151.9,147.34 L152.4,146.49 L152.9,145.62 L153.4,144.75 L153.9,143.85 L154.4,142.92 L154.9,141.98 L155.4,141 L155.9,140 L156.4,138.98 L156.9,137.93 L157.4,136.86 L157.9,135.78 L158.4,134.69 L158.9,133.58 L159.4,132.47 L159.9,131.35 L160.4,130.23 L160.9,129.11 L161.4,127.99 L161.9,126.87 L162.4,125.75 L162.9,124.63 L163.4,123.5 L163.9,122.36 L164.4,121.21 L164.9,120.05 L165.4,118.86 L165.9,117.66 L166.4,116.44 L166.9,115.19 L167.4,113.91 L167.9,112.6 L168.4,111.25 L168.9,109.85 L169.4,108.4 L169.9,106.88 L170.4,105.32 L170.9,103.7 L171.4,102.05 L171.9,100.38 L172.4,98.71 L172.9,97.04 L173.4,95.39 L173.9,93.76 L174.4,92.16 L174.9,90.58 L175.4,89.02 L175.9,87.47 L176.4,85.92 L176.9,84.37 L177.4,82.8 L177.9,81.2 L178.4,79.57 L178.9,77.9 L179.4,76.18 L179.9,74.41 L180.4,72.58 L180.9,70.71 L181.4,68.81 L181.9,66.91 L182.4,65.01 L182.9,63.14 L183.4,61.28 L183.9,59.45 L184.4,57.62 L184.9,55.8 L185.4,53.98 L185.9,52.19 L186.4,50.43 L186.9,48.72 L187.4,47.08 L187.9,45.51 L188.4,44.02 L188.9,42.6 L189.4,41.22 L189.9,39.89 L190.4,38.61 L190.9,37.41 L191.4,36.3 L191.9,35.3 L192.4,34.45 L192.9,33.71 L193.4,33.08 L193.9,32.52 L194.4,32.03 L194.9,31.62 L195.4,31.31 L195.9,31.11 L196.4,31.05 L196.9,31.1 L197.4,31.26 L197.9,31.52 L198.4,31.85 L198.9,32.25 L199.4,32.72 L199.9,33.27 L200.4,33.94 L200.9,34.78 L201.4,35.83 L201.9,37.09 L202.4,38.53 L202.9,40.11 L203.4,41.83 L203.9,43.72 L204.4,45.8 L204.9,48.06 L205.4,50.47 L205.9,52.97 L206.4,55.53 L206.9,58.13 L207.4,60.79 L207.9,63.5 L208.4,66.25 L208.9,69.01 L209.4,71.75 L209.9,74.46 L210.4,77.13 L210.9,79.77 L211.4,82.37 L211.9,84.92 L212.4,87.41 L212.9,89.84 L213.4,92.22 L213.9,94.58 L214.4,96.95 L214.9,99.33 L215.4,101.73 L215.9,104.15 L216.4,106.58 L216.9,109.02 L217.4,111.49 L217.9,113.98 L218.4,116.48 L218.9,118.98 L219.4,121.48 L219.9,123.96 L220.4,126.44 L220.9,128.91 L221.4,131.41 L221.9,133.96 L222.4,136.62 L222.9,139.38 L223.4,142.24 L223.9,145.15 L224.4,148.03 L224.9,150.85 L225.4,153.56 L225.9,156.19 L226.4,158.79 L226.9,161.43 L227.4,164.15 L227.9,166.97 L228.4,169.82 L228.9,172.57 L229.4,175.08 L229.9,177.31 L230.4,179.46 L230.9,181.22 L231.4,182.79 L231.9,184.39 L232.4,185.92 L232.9,187.46 L233.4,188.73 L233.9,190.41 L234.4,191.95 L234.9,193.2 L235.4,194.52 L235.9,196.44 L236.4,197.49 L236.9,198.56 L237.4,199.72 L237.9,200.43 L238.4,201.76 L238.9,203.05 L239.4,204.37 L239.9,204.68 L240.4,205.91 L240.9,207.35 L241.4,208 L241.9,208.81 L242.4,209.81 L242.9,210.36 L243.4,211.14 L243.9,212.08 L244.4,212.86 L244.9,213.21 L245.4,214.45 L245.9,214.51 L246.4,215.41 L246.9,216.83 L247.4,216.77 L247.9,217.63 L248.4,217.9 L248.9,218.6 L249.4,219.06 L249.9,219.64 L250.4,220.32 L250.9,220.99 L251.4,221.24 L251.9,221.78 L252.4,221.75 L252.9,222.52 L253.4,222.7 L253.9,223.2 L254.4,223.16 L254.9,223.51 L255.4,224.12 L255.9,224.25 L256.4,224.42 L256.9,224.51 L257.4,224.88 L257.9,225.23 L258.4,225.52 L258.9,225.49 L259.4,225.76 L259.9,226.13 L260.4,226.03 L260.9,226.65 L261.4,226.65 L261.9,226.82 L262.4,226.55 L262.9,226.89 L263.4,227.16 L263.9,227.41 L264.4,227.46 L264.9,227.89 L265.4,227.97 L265.9,228.01 L266.4,227.76 L266.9,228.55 L267.4,228.32 L267.9,228.58 L268.4,228.42 L268.9,228.64 L269.4,228.87 L269.9,228.86 L270.4,229.08 L270.9,228.93 L271.4,229.44 L271.9,228.74 L272.4,229.07 L272.9,229.45 L273.4,229.27 L273.9,229.29 L274.4,229.09 L274.9,229.74 L275.4,229.18 L275.9,229.72 L276.4,229.71 L276.9,229.9 L277.4,230.06 L277.9,229.68 L278.4,229.71 L278.9,229.85 L279.4,229.61 L279.9,230.16 L280.4,229.96 L280.9,230.11 L281.4,229.89 L281.9,230.16 L282.4,230.07 L282.9,230.22 L283.4,230.05 L283.9,230.52 L284.4,230.22 L284.9,229.88 L285.4,230.55 L285.9,230.4 L286.4,230.32 L286.9,231.03 L287.4,230.56 L287.9,230.33 L288.4,230.51 L288.9,230.74 L289.4,230.65 L289.9,230.97 L290.4,230.96 L290.9,230.61 L291.4,230.8 L291.9,230.94 L292.4,230.75 L292.9,230.75 L293.4,231.03 L293.9,230.96 L294.4,230.6 L294.9,230.78 L295.4,230.81 L295.9,230.87 L296.4,230.75 L296.9,231.16 L297.4,230.7 L297.9,230.67 L298.4,230.93 L298.9,230.44 L299.4,230.69 L299.9,231.02 L300.4,230.63 L300.9,230.72 L301.4,231.11 L301.9,230.98 L302.4,230.9 L302.9,230.94 L303.4,230.76 L303.9,230.95 L304.4,230.85 L304.9,231.39 L305.4,231 L305.9,230.83 L306.4,230.88 L306.9,230.9 L307.4,230.62 L307.9,230.73 L308.4,231.2 L308.9,230.61 L309.4,230.78 L309.9,231.1 L310.4,231.2 L310.9,230.69 L311.4,231.19 L311.9,230.82 L312.4,231.23 L312.9,231 L313.4,230.84 L313.9,231.04 L314.4,231.01 L314.9,230.74 L315.4,231.33 L315.9,230.83 L316.4,231.13 L316.9,230.8 L317.4,230.53 L317.9,230.67 L318.4,230.88 L318.9,231.03 L319.4,231.25 L319.9,230.91 L320.4,230.84 L320.9,230.65 L321.4,230.89 L321.9,230.96 L322.4,230.45 L322.9,231.16 L323.4,231.12 L323.9,231.35 L324.4,230.71 L324.9,230.9 L325.4,230.9 L325.9,230.63 L326.4,230.73 L326.9,230.7 L327.4,231 L327.9,230.98 L328.4,231.17 L328.9,230.82" fill="none" stroke="#1c1c8a" stroke-width="1.65" stroke-linejoin="round"/>
<path d="M29.9,216.64 L30.4,216.89 L30.9,217.22 L31.4,217.58 L31.9,217.94 L32.4,218.29 L32.9,218.62 L33.4,218.93 L33.9,219.22 L34.4,219.49 L34.9,219.74 L35.4,219.97 L35.9,220.19 L36.4,220.4 L36.9,220.6 L37.4,220.8 L37.9,220.99 L38.4,221.16 L38.9,221.33 L39.4,221.49 L39.9,221.63 L40.4,221.76 L40.9,221.88 L41.4,221.98 L41.9,222.07 L42.4,222.16 L42.9,222.23 L43.4,222.31 L43.9,222.38 L44.4,222.45 L44.9,222.52 L45.4,222.58 L45.9,222.65 L46.4,222.71 L46.9,222.77 L47.4,222.83 L47.9,222.88 L48.4,222.93 L48.9,222.98 L49.4,223.03 L49.9,223.07 L50.4,223.11 L50.9,223.15 L51.4,223.18 L51.9,223.21 L52.4,223.23 L52.9,223.25 L53.4,223.27 L53.9,223.28 L54.4,223.29 L54.9,223.29 L55.4,223.29 L55.9,223.29 L56.4,223.28 L56.9,223.26 L57.4,223.24 L57.9,223.22 L58.4,223.19 L58.9,223.16 L59.4,223.13 L59.9,223.09 L60.4,223.05 L60.9,223 L61.4,222.95 L61.9,222.9 L62.4,222.85 L62.9,222.79 L63.4,222.73 L63.9,222.67 L64.4,222.61 L64.9,222.54 L65.4,222.47 L65.9,222.4 L66.4,222.33 L66.9,222.25 L67.4,222.18 L67.9,222.1 L68.4,222.03 L68.9,221.95 L69.4,221.87 L69.9,221.79 L70.4,221.71 L70.9,221.62 L71.4,221.54 L71.9,221.46 L72.4,221.38 L72.9,221.29 L73.4,221.21 L73.9,221.13 L74.4,221.05 L74.9,220.96 L75.4,220.87 L75.9,220.77 L76.4,220.67 L76.9,220.56 L77.4,220.45 L77.9,220.33 L78.4,220.21 L78.9,220.08 L79.4,219.95 L79.9,219.82 L80.4,219.68 L80.9,219.55 L81.4,219.41 L81.9,219.28 L82.4,219.15 L82.9,219.02 L83.4,218.89 L83.9,218.76 L84.4,218.64 L84.9,218.52 L85.4,218.41 L85.9,218.31 L86.4,218.21 L86.9,218.11 L87.4,218.03 L87.9,217.95 L88.4,217.87 L88.9,217.8 L89.4,217.73 L89.9,217.66 L90.4,217.59 L90.9,217.52 L91.4,217.45 L91.9,217.37 L92.4,217.29 L92.9,217.21 L93.4,217.12 L93.9,217.03 L94.4,216.92 L94.9,216.81 L95.4,216.68 L95.9,216.54 L96.4,216.39 L96.9,216.21 L97.4,216.03 L97.9,215.84 L98.4,215.63 L98.9,215.42 L99.4,215.19 L99.9,214.97 L100.4,214.74 L100.9,214.5 L101.4,214.27 L101.9,214.03 L102.4,213.8 L102.9,213.56 L103.4,213.32 L103.9,213.08 L104.4,212.83 L104.9,212.58 L105.4,212.32 L105.9,212.06 L106.4,211.79 L106.9,211.52 L107.4,211.24 L107.9,210.95 L108.4,210.66 L108.9,210.37 L109.4,210.06 L109.9,209.75 L110.4,209.43 L110.9,209.11 L111.4,208.77 L111.9,208.42 L112.4,208.06 L112.9,207.7 L113.4,207.33 L113.9,206.95 L114.4,206.57 L114.9,206.18 L115.4,205.79 L115.9,205.4 L116.4,205 L116.9,204.61 L117.4,204.22 L117.9,203.82 L118.4,203.44 L118.9,203.05 L119.4,202.66 L119.9,202.28 L120.4,201.9 L120.9,201.52 L121.4,201.14 L121.9,200.75 L122.4,200.37 L122.9,199.98 L123.4,199.59 L123.9,199.19 L124.4,198.8 L124.9,198.39 L125.4,197.98 L125.9,197.57 L126.4,197.15 L126.9,196.72 L127.4,196.28 L127.9,195.83 L128.4,195.38 L128.9,194.91 L129.4,194.44 L129.9,193.96 L130.4,193.47 L130.9,192.98 L131.4,192.48 L131.9,191.97 L132.4,191.46 L132.9,190.95 L133.4,190.43 L133.9,189.91 L134.4,189.39 L134.9,188.86 L135.4,188.34 L135.9,187.81 L136.4,187.29 L136.9,186.76 L137.4,186.23 L137.9,185.7 L138.4,185.16 L138.9,184.62 L139.4,184.08 L139.9,183.54 L140.4,182.99 L140.9,182.44 L141.4,181.89 L141.9,181.33 L142.4,180.77 L142.9,180.2 L143.4,179.63 L143.9,179.06 L144.4,178.48 L144.9,177.89 L145.4,177.3 L145.9,176.7 L146.4,176.1 L146.9,175.48 L147.4,174.87 L147.9,174.25 L148.4,173.62 L148.9,173 L149.4,172.37 L149.9,171.75 L150.4,171.13 L150.9,170.51 L151.4,169.88 L151.9,169.26 L152.4,168.64 L152.9,168.02 L153.4,167.4 L153.9,166.78 L154.4,166.16 L154.9,165.53 L155.4,164.91 L155.9,164.29 L156.4,163.67 L156.9,163.05 L157.4,162.43 L157.9,161.82 L158.4,161.21 L158.9,160.61 L159.4,160.02 L159.9,159.43 L160.4,158.83 L160.9,158.24 L161.4,157.64 L161.9,157.02 L162.4,156.4 L162.9,155.76 L163.4,155.1 L163.9,154.42 L164.4,153.71 L164.9,152.98 L165.4,152.21 L165.9,151.42 L166.4,150.61 L166.9,149.77 L167.4,148.91 L167.9,148.04 L168.4,147.15 L168.9,146.25 L169.4,145.34 L169.9,144.41 L170.4,143.47 L170.9,142.51 L171.4,141.53 L171.9,140.54 L172.4,139.53 L172.9,138.53 L173.4,137.51 L173.9,136.5 L174.4,135.49 L174.9,134.48 L175.4,133.46 L175.9,132.45 L176.4,131.43 L176.9,130.41 L177.4,129.39 L177.9,128.38 L178.4,127.36 L178.9,126.35 L179.4,125.33 L179.9,124.31 L180.4,123.28 L180.9,122.24 L181.4,121.18 L181.9,120.11 L182.4,119.03 L182.9,117.96 L183.4,116.89 L183.9,115.83 L184.4,114.78 L184.9,113.76 L185.4,112.77 L185.9,111.81 L186.4,110.88 L186.9,109.96 L187.4,109.05 L187.9,108.14 L188.4,107.24 L188.9,106.36 L189.4,105.52 L189.9,104.74 L190.4,104.03 L190.9,103.42 L191.4,102.91 L191.9,102.48 L192.4,102.13 L192.9,101.83 L193.4,101.58 L193.9,101.37 L194.4,101.21 L194.9,101.11 L195.4,101.09 L195.9,101.15 L196.4,101.28 L196.9,101.47 L197.4,101.71 L197.9,102.02 L198.4,102.4 L198.9,102.89 L199.4,103.47 L199.9,104.15 L200.4,104.88 L200.9,105.65 L201.4,106.45 L201.9,107.29 L202.4,108.17 L202.9,109.09 L203.4,110.03 L203.9,111.01 L204.4,112 L204.9,113.02 L205.4,114.05 L205.9,115.11 L206.4,116.2 L206.9,117.32 L207.4,118.48 L207.9,119.69 L208.4,120.95 L208.9,122.27 L209.4,123.67 L209.9,125.16 L210.4,126.73 L210.9,128.37 L211.4,130.07 L211.9,131.8 L212.4,133.54 L212.9,135.26 L213.4,136.95 L213.9,138.62 L214.4,140.25 L214.9,141.88 L215.4,143.51 L215.9,145.15 L216.4,146.83 L216.9,148.56 L217.4,150.36 L217.9,152.22 L218.4,154.16 L218.9,156.17 L219.4,158.24 L219.9,160.34 L220.4,162.46 L220.9,164.61 L221.4,166.77 L221.9,168.94 L222.4,171.09 L222.9,173.16 L223.4,175.14 L223.9,177.02 L224.4,178.82 L224.9,180.53 L225.4,182.17 L225.9,183.74 L226.4,185.24 L226.9,186.69 L227.4,188.08 L227.9,189.42 L228.4,190.72 L228.9,191.99 L229.4,193.23 L229.9,194.45 L230.4,195.61 L230.9,197.1 L231.4,197.73 L231.9,198.89 L232.4,199.93 L232.9,201.65 L233.4,202.36 L233.9,203.31 L234.4,204.59 L234.9,205.13 L235.4,205.52 L235.9,206.72 L236.4,207.41 L236.9,208.9 L237.4,208.98 L237.9,210.09 L238.4,210.66 L238.9,211.37 L239.4,212.13 L239.9,212.73 L240.4,213.21 L240.9,213.67 L241.4,214.34 L241.9,214.79 L242.4,215.33 L242.9,216.05 L243.4,216.48 L243.9,217.08 L244.4,217.38 L244.9,218.27 L245.4,218.13 L245.9,218.47 L246.4,219.26 L246.9,219.26 L247.4,219.76 L247.9,220.25 L248.4,220.31 L248.9,220.53 L249.4,221.06 L249.9,221.17 L250.4,221.22 L250.9,221.3 L251.4,221.68 L251.9,221.62 L252.4,221.98 L252.9,222.12 L253.4,222.59 L253.9,222.86 L254.4,222.75 L254.9,222.96 L255.4,222.99 L255.9,223.11 L256.4,223.47 L256.9,223.85 L257.4,224 L257.9,224.2 L258.4,224.19 L258.9,223.84 L259.4,224.77 L259.9,225.01 L260.4,225.09 L260.9,225.24 L261.4,225.43 L261.9,225.91 L262.4,225.56 L262.9,225.96 L263.4,225.93 L263.9,226.03 L264.4,225.98 L264.9,226.04 L265.4,225.98 L265.9,226.43 L266.4,226.34 L266.9,226.24 L267.4,226.42 L267.9,226.42 L268.4,227.08 L268.9,226.78 L269.4,226.93 L269.9,226.74 L270.4,226.85 L270.9,227.36 L271.4,227.17 L271.9,227.33 L272.4,227.74 L272.9,227.86 L273.4,227.64 L273.9,227.66 L274.4,227.67 L274.9,227.62 L275.4,228.16 L275.9,227.54 L276.4,227.82 L276.9,227.49 L277.4,227.67 L277.9,228.07 L278.4,228.12 L278.9,228.13 L279.4,228.03 L279.9,227.98 L280.4,228.05 L280.9,228.11 L281.4,228.44 L281.9,228.54 L282.4,228.35 L282.9,228.17 L283.4,228.11 L283.9,228.39 L284.4,228.31 L284.9,228 L285.4,228.68 L285.9,228.42 L286.4,228.38 L286.9,228.28 L287.4,228.3 L287.9,228.69 L288.4,228.33 L288.9,228.57 L289.4,228.7 L289.9,228.97 L290.4,228.73 L290.9,228.62 L291.4,228.56 L291.9,228.85 L292.4,228.9 L292.9,228.62 L293.4,228.85 L293.9,228.72 L294.4,228.42 L294.9,228.57 L295.4,228.97 L295.9,229.12 L296.4,228.97 L296.9,228.81 L297.4,228.72 L297.9,229 L298.4,228.97 L298.9,228.58 L299.4,229.07 L299.9,228.8 L300.4,229.1 L300.9,229.09 L301.4,229.14 L301.9,229.23 L302.4,229.17 L302.9,228.82 L303.4,228.84 L303.9,229.28 L304.4,229.18 L304.9,228.76 L305.4,228.69 L305.9,229.3 L306.4,229.59 L306.9,229.31 L307.4,229.1 L307.9,229.22 L308.4,228.61 L308.9,228.98 L309.4,229.41 L309.9,229.39 L310.4,228.78 L310.9,229.48 L311.4,229.35 L311.9,229.44 L312.4,229.22 L312.9,229.27 L313.4,229.05 L313.9,229.35 L314.4,229.48 L314.9,229.1 L315.4,229.38 L315.9,229.2 L316.4,229.54 L316.9,229.53 L317.4,228.84 L317.9,229.43 L318.4,229.56 L318.9,229.24 L319.4,229.31 L319.9,229.33 L320.4,229.13 L320.9,229.35 L321.4,229.7 L321.9,229.48 L322.4,229.7 L322.9,229.59 L323.4,229.64 L323.9,229.42 L324.4,229.55 L324.9,229.81 L325.4,229.7 L325.9,229.47 L326.4,229.25 L326.9,229.21 L327.4,229.45 L327.9,229.49 L328.4,229.02 L328.9,229.45" fill="none" stroke="#861a88" stroke-width="1.65" stroke-linejoin="round"/>
<path d="M29.9,219.85 L30.4,219.95 L30.9,220.08 L31.4,220.22 L31.9,220.37 L32.4,220.52 L32.9,220.66 L33.4,220.8 L33.9,220.94 L34.4,221.07 L34.9,221.19 L35.4,221.31 L35.9,221.43 L36.4,221.54 L36.9,221.64 L37.4,221.74 L37.9,221.83 L38.4,221.91 L38.9,221.99 L39.4,222.06 L39.9,222.12 L40.4,222.18 L40.9,222.24 L41.4,222.3 L41.9,222.35 L42.4,222.41 L42.9,222.46 L43.4,222.52 L43.9,222.57 L44.4,222.62 L44.9,222.66 L45.4,222.71 L45.9,222.75 L46.4,222.79 L46.9,222.83 L47.4,222.86 L47.9,222.89 L48.4,222.92 L48.9,222.94 L49.4,222.96 L49.9,222.97 L50.4,222.99 L50.9,222.99 L51.4,223 L51.9,223 L52.4,223 L52.9,223 L53.4,223 L53.9,223 L54.4,223 L54.9,223 L55.4,223 L55.9,223 L56.4,223 L56.9,223 L57.4,223 L57.9,223 L58.4,223 L58.9,223 L59.4,223 L59.9,223 L60.4,223 L60.9,223 L61.4,223 L61.9,223 L62.4,223 L62.9,223 L63.4,222.99 L63.9,222.98 L64.4,222.97 L64.9,222.95 L65.4,222.93 L65.9,222.9 L66.4,222.86 L66.9,222.83 L67.4,222.79 L67.9,222.74 L68.4,222.7 L68.9,222.65 L69.4,222.6 L69.9,222.55 L70.4,222.5 L70.9,222.45 L71.4,222.4 L71.9,222.35 L72.4,222.3 L72.9,222.25 L73.4,222.21 L73.9,222.17 L74.4,222.13 L74.9,222.09 L75.4,222.05 L75.9,222.02 L76.4,221.98 L76.9,221.95 L77.4,221.92 L77.9,221.89 L78.4,221.86 L78.9,221.82 L79.4,221.79 L79.9,221.76 L80.4,221.73 L80.9,221.7 L81.4,221.67 L81.9,221.63 L82.4,221.6 L82.9,221.57 L83.4,221.53 L83.9,221.5 L84.4,221.46 L84.9,221.42 L85.4,221.38 L85.9,221.34 L86.4,221.3 L86.9,221.25 L87.4,221.21 L87.9,221.16 L88.4,221.11 L88.9,221.05 L89.4,221 L89.9,220.94 L90.4,220.89 L90.9,220.83 L91.4,220.77 L91.9,220.7 L92.4,220.64 L92.9,220.58 L93.4,220.51 L93.9,220.45 L94.4,220.38 L94.9,220.32 L95.4,220.25 L95.9,220.18 L96.4,220.12 L96.9,220.05 L97.4,219.98 L97.9,219.91 L98.4,219.85 L98.9,219.78 L99.4,219.71 L99.9,219.65 L100.4,219.58 L100.9,219.52 L101.4,219.45 L101.9,219.38 L102.4,219.31 L102.9,219.24 L103.4,219.17 L103.9,219.1 L104.4,219.03 L104.9,218.96 L105.4,218.88 L105.9,218.8 L106.4,218.72 L106.9,218.64 L107.4,218.56 L107.9,218.47 L108.4,218.38 L108.9,218.29 L109.4,218.19 L109.9,218.1 L110.4,217.99 L110.9,217.88 L111.4,217.77 L111.9,217.65 L112.4,217.53 L112.9,217.4 L113.4,217.27 L113.9,217.13 L114.4,216.99 L114.9,216.85 L115.4,216.7 L115.9,216.55 L116.4,216.4 L116.9,216.24 L117.4,216.08 L117.9,215.92 L118.4,215.76 L118.9,215.59 L119.4,215.42 L119.9,215.26 L120.4,215.09 L120.9,214.91 L121.4,214.74 L121.9,214.57 L122.4,214.4 L122.9,214.22 L123.4,214.05 L123.9,213.88 L124.4,213.7 L124.9,213.53 L125.4,213.35 L125.9,213.17 L126.4,212.99 L126.9,212.81 L127.4,212.62 L127.9,212.44 L128.4,212.24 L128.9,212.05 L129.4,211.86 L129.9,211.66 L130.4,211.46 L130.9,211.26 L131.4,211.06 L131.9,210.86 L132.4,210.65 L132.9,210.45 L133.4,210.24 L133.9,210.04 L134.4,209.83 L134.9,209.62 L135.4,209.42 L135.9,209.21 L136.4,209 L136.9,208.8 L137.4,208.59 L137.9,208.39 L138.4,208.19 L138.9,207.98 L139.4,207.78 L139.9,207.58 L140.4,207.38 L140.9,207.18 L141.4,206.98 L141.9,206.78 L142.4,206.59 L142.9,206.39 L143.4,206.19 L143.9,205.99 L144.4,205.79 L144.9,205.59 L145.4,205.39 L145.9,205.19 L146.4,204.99 L146.9,204.78 L147.4,204.58 L147.9,204.37 L148.4,204.17 L148.9,203.96 L149.4,203.75 L149.9,203.54 L150.4,203.33 L150.9,203.12 L151.4,202.91 L151.9,202.7 L152.4,202.48 L152.9,202.27 L153.4,202.06 L153.9,201.84 L154.4,201.62 L154.9,201.4 L155.4,201.18 L155.9,200.96 L156.4,200.73 L156.9,200.5 L157.4,200.27 L157.9,200.03 L158.4,199.79 L158.9,199.55 L159.4,199.3 L159.9,199.05 L160.4,198.8 L160.9,198.55 L161.4,198.29 L161.9,198.03 L162.4,197.77 L162.9,197.5 L163.4,197.23 L163.9,196.95 L164.4,196.67 L164.9,196.38 L165.4,196.09 L165.9,195.79 L166.4,195.49 L166.9,195.17 L167.4,194.85 L167.9,194.52 L168.4,194.18 L168.9,193.82 L169.4,193.45 L169.9,193.07 L170.4,192.68 L170.9,192.28 L171.4,191.87 L171.9,191.46 L172.4,191.05 L172.9,190.64 L173.4,190.22 L173.9,189.81 L174.4,189.4 L174.9,189 L175.4,188.6 L175.9,188.21 L176.4,187.83 L176.9,187.44 L177.4,187.06 L177.9,186.68 L178.4,186.29 L178.9,185.91 L179.4,185.52 L179.9,185.14 L180.4,184.76 L180.9,184.39 L181.4,184.02 L181.9,183.66 L182.4,183.3 L182.9,182.96 L183.4,182.62 L183.9,182.29 L184.4,181.97 L184.9,181.66 L185.4,181.36 L185.9,181.06 L186.4,180.75 L186.9,180.45 L187.4,180.15 L187.9,179.86 L188.4,179.58 L188.9,179.31 L189.4,179.06 L189.9,178.82 L190.4,178.62 L190.9,178.43 L191.4,178.28 L191.9,178.14 L192.4,178.03 L192.9,177.94 L193.4,177.86 L193.9,177.8 L194.4,177.76 L194.9,177.75 L195.4,177.78 L195.9,177.85 L196.4,177.96 L196.9,178.11 L197.4,178.28 L197.9,178.47 L198.4,178.69 L198.9,178.94 L199.4,179.22 L199.9,179.54 L200.4,179.88 L200.9,180.25 L201.4,180.64 L201.9,181.04 L202.4,181.46 L202.9,181.89 L203.4,182.36 L203.9,182.86 L204.4,183.38 L204.9,183.92 L205.4,184.48 L205.9,185.05 L206.4,185.62 L206.9,186.2 L207.4,186.79 L207.9,187.39 L208.4,188 L208.9,188.62 L209.4,189.24 L209.9,189.88 L210.4,190.53 L210.9,191.19 L211.4,191.86 L211.9,192.54 L212.4,193.24 L212.9,193.95 L213.4,194.68 L213.9,195.43 L214.4,196.19 L214.9,196.96 L215.4,197.74 L215.9,198.51 L216.4,199.29 L216.9,200.06 L217.4,200.81 L217.9,201.56 L218.4,202.28 L218.9,202.98 L219.4,203.68 L219.9,204.36 L220.4,205.04 L220.9,205.71 L221.4,206.37 L221.9,207.02 L222.4,207.66 L222.9,208.28 L223.4,208.88 L223.9,209.47 L224.4,210.03 L224.9,210.57 L225.4,211.09 L225.9,211.59 L226.4,212.09 L226.9,212.58 L227.4,213.06 L227.9,213.53 L228.4,213.99 L228.9,214.45 L229.4,214.89 L229.9,215.32 L230.4,215.38 L230.9,215.98 L231.4,216.51 L231.9,217.23 L232.4,217.39 L232.9,217.16 L233.4,217.54 L233.9,218.33 L234.4,218.05 L234.9,218.79 L235.4,218.93 L235.9,219.6 L236.4,219.97 L236.9,219.29 L237.4,220.27 L237.9,220.57 L238.4,220.45 L238.9,220.72 L239.4,220.78 L239.9,221.21 L240.4,221.6 L240.9,222.02 L241.4,222.23 L241.9,221.97 L242.4,222 L242.9,222.61 L243.4,221.81 L243.9,222.28 L244.4,222.91 L244.9,223.42 L245.4,222.78 L245.9,223.1 L246.4,222.89 L246.9,223.24 L247.4,223.33 L247.9,223.24 L248.4,223.61 L248.9,223.55 L249.4,223.79 L249.9,223.69 L250.4,223.51 L250.9,223.92 L251.4,224.18 L251.9,223.84 L252.4,224.45 L252.9,224.31 L253.4,224.19 L253.9,224.38 L254.4,224.35 L254.9,224.33 L255.4,224.88 L255.9,224.97 L256.4,224.73 L256.9,224.9 L257.4,225 L257.9,225.33 L258.4,225.62 L258.9,225.19 L259.4,225.54 L259.9,225.55 L260.4,225.8 L260.9,226.11 L261.4,225.63 L261.9,225.42 L262.4,225.97 L262.9,225.7 L263.4,226.59 L263.9,226.07 L264.4,226.23 L264.9,226.42 L265.4,226.46 L265.9,226.35 L266.4,226.49 L266.9,226.76 L267.4,226.47 L267.9,227.04 L268.4,226.69 L268.9,226.04 L269.4,226.88 L269.9,226.24 L270.4,226.79 L270.9,227.29 L271.4,227.02 L271.9,226.48 L272.4,226.58 L272.9,226.81 L273.4,227.19 L273.9,226.66 L274.4,227.14 L274.9,226.96 L275.4,226.87 L275.9,226.87 L276.4,227.35 L276.9,226.57 L277.4,226.68 L277.9,227.2 L278.4,227.24 L278.9,226.68 L279.4,226.78 L279.9,226.74 L280.4,227.18 L280.9,226.89 L281.4,227.42 L281.9,227.27 L282.4,227.15 L282.9,227.15 L283.4,227.24 L283.9,227.33 L284.4,227.13 L284.9,227.2 L285.4,227.34 L285.9,227.14 L286.4,227.42 L286.9,227.14 L287.4,226.99 L287.9,227.24 L288.4,227.62 L288.9,227.59 L289.4,226.82 L289.9,227.31 L290.4,227.12 L290.9,227.17 L291.4,227.17 L291.9,227.21 L292.4,227.15 L292.9,227.22 L293.4,227.35 L293.9,227 L294.4,227 L294.9,227.04 L295.4,227.05 L295.9,227.49 L296.4,227.07 L296.9,227.34 L297.4,227.38 L297.9,227.56 L298.4,227.39 L298.9,227.66 L299.4,227.39 L299.9,227.47 L300.4,227.61 L300.9,227.06 L301.4,227.53 L301.9,227.82 L302.4,227.48 L302.9,227.4 L303.4,227.95 L303.9,227.5 L304.4,227.79 L304.9,226.9 L305.4,227.53 L305.9,227.38 L306.4,227.61 L306.9,227.82 L307.4,227.49 L307.9,227.48 L308.4,226.84 L308.9,227.75 L309.4,227.89 L309.9,227.6 L310.4,227.45 L310.9,227.67 L311.4,227.84 L311.9,227.75 L312.4,228.12 L312.9,227.46 L313.4,227.27 L313.9,227.74 L314.4,227.94 L314.9,227.51 L315.4,227.63 L315.9,227.48 L316.4,227.33 L316.9,227.46 L317.4,227.13 L317.9,227.72 L318.4,227.77 L318.9,227.88 L319.4,227.46 L319.9,227.51 L320.4,227.25 L320.9,227.31 L321.4,227.9 L321.9,228.39 L322.4,227.42 L322.9,227.59 L323.4,227.92 L323.9,227.52 L324.4,227.84 L324.9,227.62 L325.4,227.62 L325.9,227.92 L326.4,227.63 L326.9,227.38 L327.4,227.9 L327.9,227.7 L328.4,227.56 L328.9,227.5" fill="none" stroke="#8b1d1d" stroke-width="1.65" stroke-linejoin="round"/>
<line x1="240.3" y1="20.3" x2="272.9" y2="20.3" stroke="#1c1c8a" stroke-width="1.6"/>
<text x="276.2" y="25.1" font-size="13.5" font-weight="bold" fill="#111" text-anchor="start" font-family="Liberation Sans, sans-serif" stroke="#111" stroke-width="0.22" >Initial</text>
<line x1="240.3" y1="38" x2="272.9" y2="38" stroke="#861a88" stroke-width="1.6"/>
<text x="276.2" y="42.8" font-size="13.5" font-weight="bold" fill="#111" text-anchor="start" font-family="Liberation Sans, sans-serif" stroke="#111" stroke-width="0.22" >10 min</text>
<line x1="240.3" y1="55.8" x2="272.9" y2="55.8" stroke="#8b1d1d" stroke-width="1.6"/>
<text x="276.2" y="60.6" font-size="13.5" font-weight="bold" fill="#111" text-anchor="start" font-family="Liberation Sans, sans-serif" stroke="#111" stroke-width="0.22" >20 min</text>
<line x1="240.3" y1="73.6" x2="272.9" y2="73.6" stroke="#1a8a1a" stroke-width="1.6"/>
<text x="276.2" y="78.4" font-size="13.5" font-weight="bold" fill="#111" text-anchor="start" font-family="Liberation Sans, sans-serif" stroke="#111" stroke-width="0.22" >30 min</text>
<line x1="240.3" y1="90.9" x2="272.9" y2="90.9" stroke="#2a8e8e" stroke-width="1.6"/>
<text x="276.2" y="95.7" font-size="13.5" font-weight="bold" fill="#111" text-anchor="start" font-family="Liberation Sans, sans-serif" stroke="#111" stroke-width="0.22" >40 min</text>
<line x1="240.3" y1="108.7" x2="272.9" y2="108.7" stroke="#2323a8" stroke-width="1.6"/>
<text x="276.2" y="113.5" font-size="13.5" font-weight="bold" fill="#111" text-anchor="start" font-family="Liberation Sans, sans-serif" stroke="#111" stroke-width="0.22" >50 min</text>
<line x1="122.9" y1="23.9" x2="122.9" y2="160" stroke="#111" stroke-width="1.1"/>
<path d="M120.6,159 L125.2,159 L122.9,166 Z" fill="#111"/>
<text x="97.3" y="96.7" font-size="11.85" font-weight="bold" fill="#8b2323" text-anchor="middle" font-family="Liberation Sans, sans-serif" transform="rotate(-90 97.3 96.7)" stroke="#8b2323" stroke-width="0.22" >Decreasing absorbance</text>
<text x="112.2" y="97.3" font-size="12" font-weight="bold" fill="#8b2323" text-anchor="middle" font-family="Liberation Sans, sans-serif" transform="rotate(-90 112.2 97.3)" stroke="#8b2323" stroke-width="0.22" >with time</text>
<rect x="376.3" y="8.3" width="301.4" height="243" fill="none" stroke="#222" stroke-width="1.3"/>
<line x1="374.1" y1="251.3" x2="376.3" y2="251.3" stroke="#222" stroke-width="1.1"/>
<line x1="372.3" y1="229.21" x2="376.3" y2="229.21" stroke="#222" stroke-width="1.1"/>
<line x1="374.1" y1="207.12" x2="376.3" y2="207.12" stroke="#222" stroke-width="1.1"/>
<line x1="372.3" y1="185.03" x2="376.3" y2="185.03" stroke="#222" stroke-width="1.1"/>
<line x1="374.1" y1="162.94" x2="376.3" y2="162.94" stroke="#222" stroke-width="1.1"/>
<line x1="372.3" y1="140.85" x2="376.3" y2="140.85" stroke="#222" stroke-width="1.1"/>
<line x1="374.1" y1="118.75" x2="376.3" y2="118.75" stroke="#222" stroke-width="1.1"/>
<line x1="372.3" y1="96.66" x2="376.3" y2="96.66" stroke="#222" stroke-width="1.1"/>
<line x1="374.1" y1="74.57" x2="376.3" y2="74.57" stroke="#222" stroke-width="1.1"/>
<line x1="372.3" y1="52.48" x2="376.3" y2="52.48" stroke="#222" stroke-width="1.1"/>
<line x1="374.1" y1="30.39" x2="376.3" y2="30.39" stroke="#222" stroke-width="1.1"/>
<line x1="372.3" y1="8.3" x2="376.3" y2="8.3" stroke="#222" stroke-width="1.1"/>
<text x="368" y="233.31" font-size="12" font-weight="bold" fill="#111" text-anchor="end" font-family="Liberation Sans, sans-serif" stroke="#111" stroke-width="0.22" >0</text>
<text x="368" y="189.13" font-size="12" font-weight="bold" fill="#111" text-anchor="end" font-family="Liberation Sans, sans-serif" stroke="#111" stroke-width="0.22" >1</text>
<text x="368" y="144.95" font-size="12" font-weight="bold" fill="#111" text-anchor="end" font-family="Liberation Sans, sans-serif" stroke="#111" stroke-width="0.22" >2</text>
<text x="368" y="100.76" font-size="12" font-weight="bold" fill="#111" text-anchor="end" font-family="Liberation Sans, sans-serif" stroke="#111" stroke-width="0.22" >3</text>
<text x="368" y="56.58" font-size="12" font-weight="bold" fill="#111" text-anchor="end" font-family="Liberation Sans, sans-serif" stroke="#111" stroke-width="0.22" >4</text>
<text x="368" y="12.4" font-size="12" font-weight="bold" fill="#111" text-anchor="end" font-family="Liberation Sans, sans-serif" stroke="#111" stroke-width="0.22" >5</text>
<line x1="376.3" y1="251.3" x2="376.3" y2="253.5" stroke="#222" stroke-width="1.1"/>
<line x1="401.42" y1="251.3" x2="401.42" y2="255.3" stroke="#222" stroke-width="1.1"/>
<line x1="426.53" y1="251.3" x2="426.53" y2="253.5" stroke="#222" stroke-width="1.1"/>
<line x1="451.65" y1="251.3" x2="451.65" y2="255.3" stroke="#222" stroke-width="1.1"/>
<line x1="476.77" y1="251.3" x2="476.77" y2="253.5" stroke="#222" stroke-width="1.1"/>
<line x1="501.88" y1="251.3" x2="501.88" y2="255.3" stroke="#222" stroke-width="1.1"/>
<line x1="527" y1="251.3" x2="527" y2="253.5" stroke="#222" stroke-width="1.1"/>
<line x1="552.12" y1="251.3" x2="552.12" y2="255.3" stroke="#222" stroke-width="1.1"/>
<line x1="577.23" y1="251.3" x2="577.23" y2="253.5" stroke="#222" stroke-width="1.1"/>
<line x1="602.35" y1="251.3" x2="602.35" y2="255.3" stroke="#222" stroke-width="1.1"/>
<line x1="627.47" y1="251.3" x2="627.47" y2="253.5" stroke="#222" stroke-width="1.1"/>
<line x1="652.58" y1="251.3" x2="652.58" y2="255.3" stroke="#222" stroke-width="1.1"/>
<line x1="677.7" y1="251.3" x2="677.7" y2="253.5" stroke="#222" stroke-width="1.1"/>
<text x="401.42" y="269.2" font-size="12" font-weight="bold" fill="#111" text-anchor="middle" font-family="Liberation Sans, sans-serif" stroke="#111" stroke-width="0.22" >0</text>
<text x="451.65" y="269.2" font-size="12" font-weight="bold" fill="#111" text-anchor="middle" font-family="Liberation Sans, sans-serif" stroke="#111" stroke-width="0.22" >10</text>
<text x="501.88" y="269.2" font-size="12" font-weight="bold" fill="#111" text-anchor="middle" font-family="Liberation Sans, sans-serif" stroke="#111" stroke-width="0.22" >20</text>
<text x="552.12" y="269.2" font-size="12" font-weight="bold" fill="#111" text-anchor="middle" font-family="Liberation Sans, sans-serif" stroke="#111" stroke-width="0.22" >30</text>
<text x="602.35" y="269.2" font-size="12" font-weight="bold" fill="#111" text-anchor="middle" font-family="Liberation Sans, sans-serif" stroke="#111" stroke-width="0.22" >40</text>
<text x="652.58" y="269.2" font-size="12" font-weight="bold" fill="#111" text-anchor="middle" font-family="Liberation Sans, sans-serif" stroke="#111" stroke-width="0.22" >50</text>
<text x="539" y="286.3" font-size="14" font-weight="bold" fill="#111" text-anchor="middle" font-family="Liberation Sans, sans-serif" stroke="#111" stroke-width="0.22" >Time (min)</text>
<text transform="translate(353.2 128.2) rotate(-90)" font-size="14.2" font-weight="bold" fill="#111" text-anchor="middle" font-family="Liberation Sans, sans-serif">ln(C<tspan font-size="8" dy="3.6">o</tspan><tspan dy="-3.6">/C)</tspan></text>
<text x="380.4" y="25.6" font-size="19" font-weight="bold" fill="#000" text-anchor="start" font-family="Liberation Serif, serif" >(b)</text>
<line x1="401.92" y1="229.61" x2="653.08" y2="36.33" stroke="#3535e0" stroke-width="1.6"/>
<rect x="399.42" y="227.11" width="5.3" height="5.3" fill="#f00"/>
<rect x="449.65" y="208.33" width="5.3" height="5.3" fill="#f00"/>
<rect x="499.88" y="170.25" width="5.3" height="5.3" fill="#f00"/>
<rect x="550.12" y="120.19" width="5.3" height="5.3" fill="#f00"/>
<rect x="600.35" y="62.31" width="5.3" height="5.3" fill="#f00"/>
<rect x="650.58" y="25.64" width="5.3" height="5.3" fill="#f00"/>
<rect x="509.0" y="151.6" width="166.3" height="96.4" fill="#fff" stroke="#8a8a8a" stroke-width="1.1"/>
<line x1="509.8" y1="159.4" x2="674.5" y2="159.4" stroke="#c4c4c4" stroke-width="0.9"/>
<line x1="509.8" y1="172.3" x2="674.5" y2="172.3" stroke="#c4c4c4" stroke-width="0.9"/>
<line x1="509.8" y1="193.2" x2="674.5" y2="193.2" stroke="#c4c4c4" stroke-width="0.9"/>
<line x1="509.8" y1="200.5" x2="674.5" y2="200.5" stroke="#c4c4c4" stroke-width="0.9"/>
<line x1="509.8" y1="214" x2="674.5" y2="214" stroke="#c4c4c4" stroke-width="0.9"/>
<line x1="509.8" y1="228.5" x2="674.5" y2="228.5" stroke="#c4c4c4" stroke-width="0.9"/>
<line x1="556.6" y1="235.4" x2="674.5" y2="235.4" stroke="#c4c4c4" stroke-width="0.9"/>
<line x1="556.6" y1="151.6" x2="556.6" y2="248" stroke="#c4c4c4" stroke-width="0.9"/>
<line x1="627.9" y1="151.6" x2="627.9" y2="248" stroke="#c4c4c4" stroke-width="0.9"/>
<line x1="601.4" y1="151.6" x2="601.4" y2="159.4" stroke="#c4c4c4" stroke-width="0.9"/>
<line x1="601.4" y1="172.3" x2="601.4" y2="248" stroke="#c4c4c4" stroke-width="0.9"/>
<line x1="510.2" y1="151.6" x2="510.2" y2="248" stroke="#d8d8d8" stroke-width="0.8"/>
<line x1="509" y1="248.9" x2="675.3" y2="248.9" stroke="#aaa" stroke-width="0.9"/>
<text x="511" y="157.3" font-size="6.4" fill="#1a1a1a" stroke="#1a1a1a" stroke-width="0.25" text-anchor="start" letter-spacing="0.08" font-family="Liberation Sans, sans-serif">Equation</text>
<text x="511" y="168" font-size="6.4" fill="#1a1a1a" stroke="#1a1a1a" stroke-width="0.25" text-anchor="start" letter-spacing="0.08" font-family="Liberation Sans, sans-serif">Weight</text>
<text x="511" y="181.6" font-size="6.4" fill="#1a1a1a" stroke="#1a1a1a" stroke-width="0.25" text-anchor="start" letter-spacing="0.08" font-family="Liberation Sans, sans-serif">Residual Sum</text>
<text x="511" y="188.3" font-size="6.4" fill="#1a1a1a" stroke="#1a1a1a" stroke-width="0.25" text-anchor="start" letter-spacing="0.08" font-family="Liberation Sans, sans-serif">of Squares</text>
<text x="511" y="198.8" font-size="6.4" fill="#1a1a1a" stroke="#1a1a1a" stroke-width="0.25" text-anchor="start" letter-spacing="0.08" font-family="Liberation Sans, sans-serif">Pearson&#8217;s r</text>
<text x="511" y="209.5" font-size="6.4" fill="#1a1a1a" stroke="#1a1a1a" stroke-width="0.25" text-anchor="start" letter-spacing="0.08" font-family="Liberation Sans, sans-serif">Adj. R-Square</text>
<text x="511" y="240.5" font-size="6.4" fill="#1a1a1a" stroke="#1a1a1a" stroke-width="0.25" text-anchor="start" letter-spacing="0.08" font-family="Liberation Sans, sans-serif">B</text>
<text x="558" y="157.3" font-size="6.4" fill="#1a1a1a" stroke="#1a1a1a" stroke-width="0.25" text-anchor="start" letter-spacing="0.08" font-family="Liberation Sans, sans-serif">y = a + b*x</text>
<text x="558" y="164.9" font-size="6.4" fill="#1a1a1a" stroke="#1a1a1a" stroke-width="0.25" text-anchor="start" letter-spacing="0.08" font-family="Liberation Sans, sans-serif">No Weighting</text>
<text x="598" y="178.6" font-size="6.4" fill="#1a1a1a" stroke="#1a1a1a" stroke-width="0.25" text-anchor="end" letter-spacing="0.08" font-family="Liberation Sans, sans-serif">0.54278</text>
<text x="598" y="198.8" font-size="6.4" fill="#1a1a1a" stroke="#1a1a1a" stroke-width="0.25" text-anchor="end" letter-spacing="0.08" font-family="Liberation Sans, sans-serif">0.9936</text>
<text x="598" y="205.5" font-size="6.4" fill="#1a1a1a" stroke="#1a1a1a" stroke-width="0.25" text-anchor="end" letter-spacing="0.08" font-family="Liberation Sans, sans-serif">0.9847</text>
<text x="603.2" y="221.1" font-size="6.4" fill="#1a1a1a" stroke="#1a1a1a" stroke-width="0.25" text-anchor="start" letter-spacing="0.08" font-family="Liberation Sans, sans-serif">Value</text>
<text x="630.5" y="221.1" font-size="6.4" fill="#1a1a1a" stroke="#1a1a1a" stroke-width="0.25" text-anchor="start" letter-spacing="0.08" font-family="Liberation Sans, sans-serif">Standard Error</text>
<text x="558" y="233.8" font-size="6.4" fill="#1a1a1a" stroke="#1a1a1a" stroke-width="0.25" text-anchor="start" letter-spacing="0.08" font-family="Liberation Sans, sans-serif">Intercept</text>
<text x="558.8" y="241" font-size="6.4" fill="#1a1a1a" stroke="#1a1a1a" stroke-width="0.25" text-anchor="start" letter-spacing="0.08" font-family="Liberation Sans, sans-serif">Slope</text>
<text x="624.7" y="233.8" font-size="6.4" fill="#1a1a1a" stroke="#1a1a1a" stroke-width="0.25" text-anchor="end" letter-spacing="0.08" font-family="Liberation Sans, sans-serif">0</text>
<text x="624.7" y="241" font-size="6.4" fill="#1a1a1a" stroke="#1a1a1a" stroke-width="0.25" text-anchor="end" letter-spacing="0.08" font-family="Liberation Sans, sans-serif">0.0874</text>
<text x="671.8" y="232.6" font-size="6.4" fill="#1a1a1a" stroke="#1a1a1a" stroke-width="0.25" text-anchor="end" letter-spacing="0.08" font-family="Liberation Sans, sans-serif">--</text>
<text x="671.8" y="241" font-size="6.4" fill="#1a1a1a" stroke="#1a1a1a" stroke-width="0.25" text-anchor="end" letter-spacing="0.08" font-family="Liberation Sans, sans-serif">0.00444</text>
<rect x="46.1" y="297.4" width="292.3" height="237" fill="none" stroke="#222" stroke-width="1.3"/>
<line x1="43.9" y1="534.4" x2="46.1" y2="534.4" stroke="#222" stroke-width="1.1"/>
<line x1="42.1" y1="516.17" x2="46.1" y2="516.17" stroke="#222" stroke-width="1.1"/>
<line x1="43.9" y1="497.94" x2="46.1" y2="497.94" stroke="#222" stroke-width="1.1"/>
<line x1="42.1" y1="479.71" x2="46.1" y2="479.71" stroke="#222" stroke-width="1.1"/>
<line x1="43.9" y1="461.48" x2="46.1" y2="461.48" stroke="#222" stroke-width="1.1"/>
<line x1="42.1" y1="443.25" x2="46.1" y2="443.25" stroke="#222" stroke-width="1.1"/>
<line x1="43.9" y1="425.02" x2="46.1" y2="425.02" stroke="#222" stroke-width="1.1"/>
<line x1="42.1" y1="406.78" x2="46.1" y2="406.78" stroke="#222" stroke-width="1.1"/>
<line x1="43.9" y1="388.55" x2="46.1" y2="388.55" stroke="#222" stroke-width="1.1"/>
<line x1="42.1" y1="370.32" x2="46.1" y2="370.32" stroke="#222" stroke-width="1.1"/>
<line x1="43.9" y1="352.09" x2="46.1" y2="352.09" stroke="#222" stroke-width="1.1"/>
<line x1="42.1" y1="333.86" x2="46.1" y2="333.86" stroke="#222" stroke-width="1.1"/>
<line x1="43.9" y1="315.63" x2="46.1" y2="315.63" stroke="#222" stroke-width="1.1"/>
<line x1="42.1" y1="297.4" x2="46.1" y2="297.4" stroke="#222" stroke-width="1.1"/>
<text x="38.6" y="520.07" font-size="12" font-weight="bold" fill="#111" text-anchor="end" font-family="Liberation Sans, sans-serif" stroke="#111" stroke-width="0.22" >0.0</text>
<text x="38.6" y="483.61" font-size="12" font-weight="bold" fill="#111" text-anchor="end" font-family="Liberation Sans, sans-serif" stroke="#111" stroke-width="0.22" >0.2</text>
<text x="38.6" y="447.15" font-size="12" font-weight="bold" fill="#111" text-anchor="end" font-family="Liberation Sans, sans-serif" stroke="#111" stroke-width="0.22" >0.4</text>
<text x="38.6" y="410.68" font-size="12" font-weight="bold" fill="#111" text-anchor="end" font-family="Liberation Sans, sans-serif" stroke="#111" stroke-width="0.22" >0.6</text>
<text x="38.6" y="374.22" font-size="12" font-weight="bold" fill="#111" text-anchor="end" font-family="Liberation Sans, sans-serif" stroke="#111" stroke-width="0.22" >0.8</text>
<text x="38.6" y="337.76" font-size="12" font-weight="bold" fill="#111" text-anchor="end" font-family="Liberation Sans, sans-serif" stroke="#111" stroke-width="0.22" >1.0</text>
<text x="38.6" y="301.3" font-size="12" font-weight="bold" fill="#111" text-anchor="end" font-family="Liberation Sans, sans-serif" stroke="#111" stroke-width="0.22" >1.2</text>
<line x1="46.1" y1="534.4" x2="46.1" y2="538.4" stroke="#222" stroke-width="1.1"/>
<line x1="62.34" y1="534.4" x2="62.34" y2="536.6" stroke="#222" stroke-width="1.1"/>
<line x1="78.58" y1="534.4" x2="78.58" y2="538.4" stroke="#222" stroke-width="1.1"/>
<line x1="94.82" y1="534.4" x2="94.82" y2="536.6" stroke="#222" stroke-width="1.1"/>
<line x1="111.06" y1="534.4" x2="111.06" y2="538.4" stroke="#222" stroke-width="1.1"/>
<line x1="127.29" y1="534.4" x2="127.29" y2="536.6" stroke="#222" stroke-width="1.1"/>
<line x1="143.53" y1="534.4" x2="143.53" y2="538.4" stroke="#222" stroke-width="1.1"/>
<line x1="159.77" y1="534.4" x2="159.77" y2="536.6" stroke="#222" stroke-width="1.1"/>
<line x1="176.01" y1="534.4" x2="176.01" y2="538.4" stroke="#222" stroke-width="1.1"/>
<line x1="192.25" y1="534.4" x2="192.25" y2="536.6" stroke="#222" stroke-width="1.1"/>
<line x1="208.49" y1="534.4" x2="208.49" y2="538.4" stroke="#222" stroke-width="1.1"/>
<line x1="224.73" y1="534.4" x2="224.73" y2="536.6" stroke="#222" stroke-width="1.1"/>
<line x1="240.97" y1="534.4" x2="240.97" y2="538.4" stroke="#222" stroke-width="1.1"/>
<line x1="257.21" y1="534.4" x2="257.21" y2="536.6" stroke="#222" stroke-width="1.1"/>
<line x1="273.44" y1="534.4" x2="273.44" y2="538.4" stroke="#222" stroke-width="1.1"/>
<line x1="289.68" y1="534.4" x2="289.68" y2="536.6" stroke="#222" stroke-width="1.1"/>
<line x1="305.92" y1="534.4" x2="305.92" y2="538.4" stroke="#222" stroke-width="1.1"/>
<line x1="322.16" y1="534.4" x2="322.16" y2="536.6" stroke="#222" stroke-width="1.1"/>
<line x1="338.4" y1="534.4" x2="338.4" y2="538.4" stroke="#222" stroke-width="1.1"/>
<text x="46.1" y="552" font-size="12" font-weight="bold" fill="#111" text-anchor="middle" font-family="Liberation Sans, sans-serif" stroke="#111" stroke-width="0.22" >-30</text>
<text x="78.58" y="552" font-size="12" font-weight="bold" fill="#111" text-anchor="middle" font-family="Liberation Sans, sans-serif" stroke="#111" stroke-width="0.22" >-20</text>
<text x="111.06" y="552" font-size="12" font-weight="bold" fill="#111" text-anchor="middle" font-family="Liberation Sans, sans-serif" stroke="#111" stroke-width="0.22" >-10</text>
<text x="143.53" y="552" font-size="12" font-weight="bold" fill="#111" text-anchor="middle" font-family="Liberation Sans, sans-serif" stroke="#111" stroke-width="0.22" >0</text>
<text x="176.01" y="552" font-size="12" font-weight="bold" fill="#111" text-anchor="middle" font-family="Liberation Sans, sans-serif" stroke="#111" stroke-width="0.22" >10</text>
<text x="208.49" y="552" font-size="12" font-weight="bold" fill="#111" text-anchor="middle" font-family="Liberation Sans, sans-serif" stroke="#111" stroke-width="0.22" >20</text>
<text x="240.97" y="552" font-size="12" font-weight="bold" fill="#111" text-anchor="middle" font-family="Liberation Sans, sans-serif" stroke="#111" stroke-width="0.22" >30</text>
<text x="273.44" y="552" font-size="12" font-weight="bold" fill="#111" text-anchor="middle" font-family="Liberation Sans, sans-serif" stroke="#111" stroke-width="0.22" >40</text>
<text x="305.92" y="552" font-size="12" font-weight="bold" fill="#111" text-anchor="middle" font-family="Liberation Sans, sans-serif" stroke="#111" stroke-width="0.22" >50</text>
<text x="338.4" y="552" font-size="12" font-weight="bold" fill="#111" text-anchor="middle" font-family="Liberation Sans, sans-serif" stroke="#111" stroke-width="0.22" >60</text>
<text x="195.5" y="570.3" font-size="14" font-weight="bold" fill="#111" text-anchor="middle" font-family="Liberation Sans, sans-serif" stroke="#111" stroke-width="0.22" >Time (min)</text>
<text transform="translate(12.2 421.3) rotate(-90)" font-size="14" font-weight="bold" fill="#111" text-anchor="middle" font-family="Liberation Sans, sans-serif">C/C<tspan font-size="8.2" dy="3.9">o</tspan></text>
<text x="49.6" y="313.9" font-size="19" font-weight="bold" fill="#000" text-anchor="start" font-family="Liberation Serif, serif" >(c)</text>
<line x1="143.53" y1="297.4" x2="143.53" y2="534.4" stroke="#111" stroke-width="1.1"/>
<text x="54.3" y="355.3" font-size="12.2" font-weight="bold" fill="#111" text-anchor="start" font-family="Liberation Sans, sans-serif" stroke="#111" stroke-width="0.22" letter-spacing="0.27">Dark Process</text>
<text x="237.5" y="316" font-size="12.2" font-weight="bold" fill="#6e14c8" text-anchor="middle" font-family="Liberation Sans, sans-serif" stroke="#6e14c8" stroke-width="0.22" letter-spacing="0.2">Photocatalytic Process</text>
<path d="M46.1,333.86 L78.58,333.86 L111.06,333.86 L143.53,333.86 L176.01,333.86 L208.49,334.41 L240.97,335.68 L273.44,336.6 L305.92,336.6" fill="none" stroke="#000" stroke-width="1.45" stroke-linejoin="round"/>
<rect x="43.55" y="331.31" width="5.1" height="5.1" fill="#000"/>
<rect x="76.03" y="331.31" width="5.1" height="5.1" fill="#000"/>
<rect x="108.51" y="331.31" width="5.1" height="5.1" fill="#000"/>
<rect x="140.98" y="331.31" width="5.1" height="5.1" fill="#000"/>
<rect x="173.46" y="331.31" width="5.1" height="5.1" fill="#000"/>
<rect x="205.94" y="331.86" width="5.1" height="5.1" fill="#000"/>
<rect x="238.42" y="333.13" width="5.1" height="5.1" fill="#000"/>
<rect x="270.89" y="334.05" width="5.1" height="5.1" fill="#000"/>
<rect x="303.37" y="334.05" width="5.1" height="5.1" fill="#000"/>
<path d="M46.1,333.86 L78.58,333.86 L111.06,333.86 L143.53,333.86 L176.01,339.33 L208.49,342.98 L240.97,349.18 L273.44,353.92 L305.92,357.2" fill="none" stroke="#ff0000" stroke-width="1.45" stroke-linejoin="round"/>
<circle cx="46.1" cy="333.86" r="2.9" fill="#ff0000"/>
<circle cx="78.58" cy="333.86" r="2.9" fill="#ff0000"/>
<circle cx="111.06" cy="333.86" r="2.9" fill="#ff0000"/>
<circle cx="143.53" cy="333.86" r="2.9" fill="#ff0000"/>
<circle cx="176.01" cy="339.33" r="2.9" fill="#ff0000"/>
<circle cx="208.49" cy="342.98" r="2.9" fill="#ff0000"/>
<circle cx="240.97" cy="349.18" r="2.9" fill="#ff0000"/>
<circle cx="273.44" cy="353.92" r="2.9" fill="#ff0000"/>
<circle cx="305.92" cy="357.2" r="2.9" fill="#ff0000"/>
<path d="M46.1,333.86 L78.58,333.86 L111.06,333.86 L143.53,333.86 L176.01,355.74 L208.49,371.05 L240.97,377.25 L273.44,401.68 L305.92,409.52" fill="none" stroke="#0000ff" stroke-width="1.45" stroke-linejoin="round"/>
<path d="M46.1,330.36 L49.6,336.49 L42.6,336.49 Z" fill="#0000ff"/>
<path d="M78.58,330.36 L82.08,336.49 L75.08,336.49 Z" fill="#0000ff"/>
<path d="M111.06,330.36 L114.56,336.49 L107.56,336.49 Z" fill="#0000ff"/>
<path d="M143.53,330.36 L147.03,336.49 L140.03,336.49 Z" fill="#0000ff"/>
<path d="M176.01,352.24 L179.51,358.36 L172.51,358.36 Z" fill="#0000ff"/>
<path d="M208.49,367.55 L211.99,373.68 L204.99,373.68 Z" fill="#0000ff"/>
<path d="M240.97,373.75 L244.47,379.88 L237.47,379.88 Z" fill="#0000ff"/>
<path d="M273.44,398.18 L276.94,404.3 L269.94,404.3 Z" fill="#0000ff"/>
<path d="M305.92,406.02 L309.42,412.14 L302.42,412.14 Z" fill="#0000ff"/>
<path d="M46.1,333.86 L78.58,333.86 L111.06,333.86 L143.53,333.86 L176.01,373.97 L208.49,397.67 L240.97,411.89 L273.44,437.78 L305.92,449.26" fill="none" stroke="#ff00ff" stroke-width="1.45" stroke-linejoin="round"/>
<path d="M46.1,337.36 L49.6,331.24 L42.6,331.24 Z" fill="#ff00ff"/>
<path d="M78.58,337.36 L82.08,331.24 L75.08,331.24 Z" fill="#ff00ff"/>
<path d="M111.06,337.36 L114.56,331.24 L107.56,331.24 Z" fill="#ff00ff"/>
<path d="M143.53,337.36 L147.03,331.24 L140.03,331.24 Z" fill="#ff00ff"/>
<path d="M176.01,377.47 L179.51,371.34 L172.51,371.34 Z" fill="#ff00ff"/>
<path d="M208.49,401.17 L211.99,395.04 L204.99,395.04 Z" fill="#ff00ff"/>
<path d="M240.97,415.39 L244.47,409.26 L237.47,409.26 Z" fill="#ff00ff"/>
<path d="M273.44,441.28 L276.94,435.15 L269.94,435.15 Z" fill="#ff00ff"/>
<path d="M305.92,452.76 L309.42,446.64 L302.42,446.64 Z" fill="#ff00ff"/>
<path d="M46.1,333.86 L78.58,333.86 L111.06,333.86 L143.53,333.86 L176.01,378.71 L208.49,418.27 L240.97,433.04 L273.44,459.29 L305.92,466.22" fill="none" stroke="#008000" stroke-width="1.45" stroke-linejoin="round"/>
<path d="M46.1,330.46 L49.5,333.86 L46.1,337.26 L42.7,333.86 Z" fill="#008000"/>
<path d="M78.58,330.46 L81.98,333.86 L78.58,337.26 L75.18,333.86 Z" fill="#008000"/>
<path d="M111.06,330.46 L114.46,333.86 L111.06,337.26 L107.66,333.86 Z" fill="#008000"/>
<path d="M143.53,330.46 L146.93,333.86 L143.53,337.26 L140.13,333.86 Z" fill="#008000"/>
<path d="M176.01,375.31 L179.41,378.71 L176.01,382.11 L172.61,378.71 Z" fill="#008000"/>
<path d="M208.49,414.87 L211.89,418.27 L208.49,421.67 L205.09,418.27 Z" fill="#008000"/>
<path d="M240.97,429.64 L244.37,433.04 L240.97,436.44 L237.57,433.04 Z" fill="#008000"/>
<path d="M273.44,455.89 L276.84,459.29 L273.44,462.69 L270.04,459.29 Z" fill="#008000"/>
<path d="M305.92,462.82 L309.32,466.22 L305.92,469.62 L302.52,466.22 Z" fill="#008000"/>
<path d="M46.1,333.86 L78.58,333.86 L111.06,333.86 L143.53,333.86 L176.01,397.49 L208.49,466.95 L240.97,500.13 L273.44,511.98 L305.92,514.53" fill="none" stroke="#000080" stroke-width="1.45" stroke-linejoin="round"/>
<path d="M42.7,333.86 L48.65,330.46 L48.65,337.26 Z" fill="#000080"/>
<path d="M75.18,333.86 L81.13,330.46 L81.13,337.26 Z" fill="#000080"/>
<path d="M107.66,333.86 L113.61,330.46 L113.61,337.26 Z" fill="#000080"/>
<path d="M140.13,333.86 L146.08,330.46 L146.08,337.26 Z" fill="#000080"/>
<path d="M172.61,397.49 L178.56,394.09 L178.56,400.89 Z" fill="#000080"/>
<path d="M205.09,466.95 L211.04,463.55 L211.04,470.35 Z" fill="#000080"/>
<path d="M237.57,500.13 L243.52,496.73 L243.52,503.53 Z" fill="#000080"/>
<path d="M270.04,511.98 L275.99,508.58 L275.99,515.38 Z" fill="#000080"/>
<path d="M302.52,514.53 L308.47,511.13 L308.47,517.93 Z" fill="#000080"/>
<circle cx="46.1" cy="333.86" r="3.55" fill="#000088"/>
<circle cx="78.58" cy="333.86" r="3.55" fill="#000088"/>
<circle cx="111.06" cy="333.86" r="3.55" fill="#000088"/>
<circle cx="143.53" cy="333.86" r="3.55" fill="#000088"/>
<rect x="48.4" y="426.7" width="145.3" height="103.3" fill="#fff" stroke="#555" stroke-width="0.9"/>
<rect x="49.4" y="427.7" width="143.3" height="101.3" fill="none" stroke="#d0d0d0" stroke-width="0.7"/>
<line x1="56.8" y1="434" x2="83.7" y2="434" stroke="#000" stroke-width="1.2"/>
<rect x="67.22" y="431.32" width="5.35" height="5.35" fill="#000"/>
<text x="86.9" y="438.2" font-size="11.6" font-weight="bold" fill="#111" text-anchor="start" font-family="Liberation Sans, sans-serif" stroke="#111" stroke-width="0.22" >catalyst + dark</text>
<line x1="56.8" y1="448.8" x2="83.7" y2="448.8" stroke="#ff0000" stroke-width="1.2"/>
<circle cx="69.9" cy="448.8" r="3.04" fill="#ff0000"/>
<text x="86.9" y="453" font-size="11.6" font-weight="bold" fill="#111" text-anchor="start" font-family="Liberation Sans, sans-serif" stroke="#111" stroke-width="0.22" >Photolysis</text>
<line x1="56.8" y1="463.3" x2="83.7" y2="463.3" stroke="#0000ff" stroke-width="1.2"/>
<path d="M69.9,459.62 L73.58,466.06 L66.23,466.06 Z" fill="#0000ff"/>
<text x="86.9" y="467.5" font-size="11.6" font-weight="bold" fill="#111" text-anchor="start" font-family="Liberation Sans, sans-serif" stroke="#111" stroke-width="0.22" >ZnS + H<tspan font-size="7.6" dy="4.6">2</tspan><tspan dy="-4.6">O</tspan><tspan font-size="7.6" dy="4.6">2</tspan></text>
<line x1="56.8" y1="482.2" x2="83.7" y2="482.2" stroke="#ff00ff" stroke-width="1.2"/>
<path d="M69.9,485.88 L73.58,479.44 L66.23,479.44 Z" fill="#ff00ff"/>
<text x="86.9" y="486.4" font-size="11.6" font-weight="bold" fill="#111" text-anchor="start" font-family="Liberation Sans, sans-serif" stroke="#111" stroke-width="0.22" >h-ZIF-8 + H<tspan font-size="7.6" dy="4.6">2</tspan><tspan dy="-4.6">O</tspan><tspan font-size="7.6" dy="4.6">2</tspan></text>
<line x1="56.8" y1="500.9" x2="83.7" y2="500.9" stroke="#008000" stroke-width="1.2"/>
<path d="M69.9,497.33 L73.47,500.9 L69.9,504.47 L66.33,500.9 Z" fill="#008000"/>
<text x="86.9" y="505.1" font-size="11.6" font-weight="bold" fill="#111" text-anchor="start" font-family="Liberation Sans, sans-serif" stroke="#111" stroke-width="0.22" >Mo@h-ZIF-8 + H<tspan font-size="7.6" dy="4.6">2</tspan><tspan dy="-4.6">O</tspan><tspan font-size="7.6" dy="4.6">2</tspan></text>
<line x1="56.8" y1="519.6" x2="83.7" y2="519.6" stroke="#000080" stroke-width="1.2"/>
<path d="M66.33,519.6 L72.58,516.03 L72.58,523.17 Z" fill="#000080"/>
<text x="86.9" y="523.8" font-size="11.6" font-weight="bold" fill="#111" text-anchor="start" font-family="Liberation Sans, sans-serif" stroke="#111" stroke-width="0.22" >MZ@h-Z8 + H<tspan font-size="7.6" dy="4.6">2</tspan><tspan dy="-4.6">O</tspan><tspan font-size="7.6" dy="4.6">2</tspan></text>
<rect x="391.2" y="296.8" width="290.8" height="236.3" fill="none" stroke="#222" stroke-width="1.3"/>
<line x1="387.2" y1="533.1" x2="391.2" y2="533.1" stroke="#222" stroke-width="1.1"/>
<line x1="389" y1="519.2" x2="391.2" y2="519.2" stroke="#222" stroke-width="1.1"/>
<line x1="387.2" y1="505.3" x2="391.2" y2="505.3" stroke="#222" stroke-width="1.1"/>
<line x1="389" y1="491.4" x2="391.2" y2="491.4" stroke="#222" stroke-width="1.1"/>
<line x1="387.2" y1="477.5" x2="391.2" y2="477.5" stroke="#222" stroke-width="1.1"/>
<line x1="389" y1="463.6" x2="391.2" y2="463.6" stroke="#222" stroke-width="1.1"/>
<line x1="387.2" y1="449.7" x2="391.2" y2="449.7" stroke="#222" stroke-width="1.1"/>
<line x1="389" y1="435.8" x2="391.2" y2="435.8" stroke="#222" stroke-width="1.1"/>
<line x1="387.2" y1="421.9" x2="391.2" y2="421.9" stroke="#222" stroke-width="1.1"/>
<line x1="389" y1="408" x2="391.2" y2="408" stroke="#222" stroke-width="1.1"/>
<line x1="387.2" y1="394.1" x2="391.2" y2="394.1" stroke="#222" stroke-width="1.1"/>
<line x1="389" y1="380.2" x2="391.2" y2="380.2" stroke="#222" stroke-width="1.1"/>
<line x1="387.2" y1="366.3" x2="391.2" y2="366.3" stroke="#222" stroke-width="1.1"/>
<line x1="389" y1="352.4" x2="391.2" y2="352.4" stroke="#222" stroke-width="1.1"/>
<line x1="387.2" y1="338.5" x2="391.2" y2="338.5" stroke="#222" stroke-width="1.1"/>
<line x1="389" y1="324.6" x2="391.2" y2="324.6" stroke="#222" stroke-width="1.1"/>
<line x1="387.2" y1="310.7" x2="391.2" y2="310.7" stroke="#222" stroke-width="1.1"/>
<line x1="389" y1="296.8" x2="391.2" y2="296.8" stroke="#222" stroke-width="1.1"/>
<text x="383.4" y="537.2" font-size="12" font-weight="bold" fill="#111" text-anchor="end" font-family="Liberation Sans, sans-serif" stroke="#111" stroke-width="0.22" >0</text>
<text x="383.4" y="509.4" font-size="12" font-weight="bold" fill="#111" text-anchor="end" font-family="Liberation Sans, sans-serif" stroke="#111" stroke-width="0.22" >20</text>
<text x="383.4" y="481.6" font-size="12" font-weight="bold" fill="#111" text-anchor="end" font-family="Liberation Sans, sans-serif" stroke="#111" stroke-width="0.22" >40</text>
<text x="383.4" y="453.8" font-size="12" font-weight="bold" fill="#111" text-anchor="end" font-family="Liberation Sans, sans-serif" stroke="#111" stroke-width="0.22" >60</text>
<text x="383.4" y="426" font-size="12" font-weight="bold" fill="#111" text-anchor="end" font-family="Liberation Sans, sans-serif" stroke="#111" stroke-width="0.22" >80</text>
<text x="383.4" y="398.2" font-size="12" font-weight="bold" fill="#111" text-anchor="end" font-family="Liberation Sans, sans-serif" stroke="#111" stroke-width="0.22" >100</text>
<text x="383.4" y="370.4" font-size="12" font-weight="bold" fill="#111" text-anchor="end" font-family="Liberation Sans, sans-serif" stroke="#111" stroke-width="0.22" >120</text>
<text x="383.4" y="342.6" font-size="12" font-weight="bold" fill="#111" text-anchor="end" font-family="Liberation Sans, sans-serif" stroke="#111" stroke-width="0.22" >140</text>
<text x="383.4" y="314.8" font-size="12" font-weight="bold" fill="#111" text-anchor="end" font-family="Liberation Sans, sans-serif" stroke="#111" stroke-width="0.22" >160</text>
<line x1="391.2" y1="533.1" x2="391.2" y2="535.3" stroke="#222" stroke-width="1.1"/>
<line x1="415.43" y1="533.1" x2="415.43" y2="537.1" stroke="#222" stroke-width="1.1"/>
<line x1="439.67" y1="533.1" x2="439.67" y2="535.3" stroke="#222" stroke-width="1.1"/>
<line x1="463.9" y1="533.1" x2="463.9" y2="537.1" stroke="#222" stroke-width="1.1"/>
<line x1="488.13" y1="533.1" x2="488.13" y2="535.3" stroke="#222" stroke-width="1.1"/>
<line x1="512.37" y1="533.1" x2="512.37" y2="537.1" stroke="#222" stroke-width="1.1"/>
<line x1="536.6" y1="533.1" x2="536.6" y2="535.3" stroke="#222" stroke-width="1.1"/>
<line x1="560.83" y1="533.1" x2="560.83" y2="537.1" stroke="#222" stroke-width="1.1"/>
<line x1="585.07" y1="533.1" x2="585.07" y2="535.3" stroke="#222" stroke-width="1.1"/>
<line x1="609.3" y1="533.1" x2="609.3" y2="537.1" stroke="#222" stroke-width="1.1"/>
<line x1="633.53" y1="533.1" x2="633.53" y2="535.3" stroke="#222" stroke-width="1.1"/>
<line x1="657.77" y1="533.1" x2="657.77" y2="537.1" stroke="#222" stroke-width="1.1"/>
<line x1="682" y1="533.1" x2="682" y2="535.3" stroke="#222" stroke-width="1.1"/>
<text x="415.43" y="550.7" font-size="12" font-weight="bold" fill="#111" text-anchor="middle" font-family="Liberation Sans, sans-serif" stroke="#111" stroke-width="0.22" >1</text>
<text x="463.9" y="550.7" font-size="12" font-weight="bold" fill="#111" text-anchor="middle" font-family="Liberation Sans, sans-serif" stroke="#111" stroke-width="0.22" >2</text>
<text x="512.37" y="550.7" font-size="12" font-weight="bold" fill="#111" text-anchor="middle" font-family="Liberation Sans, sans-serif" stroke="#111" stroke-width="0.22" >3</text>
<text x="560.83" y="550.7" font-size="12" font-weight="bold" fill="#111" text-anchor="middle" font-family="Liberation Sans, sans-serif" stroke="#111" stroke-width="0.22" >4</text>
<text x="609.3" y="550.7" font-size="12" font-weight="bold" fill="#111" text-anchor="middle" font-family="Liberation Sans, sans-serif" stroke="#111" stroke-width="0.22" >5</text>
<text x="657.77" y="550.7" font-size="12" font-weight="bold" fill="#111" text-anchor="middle" font-family="Liberation Sans, sans-serif" stroke="#111" stroke-width="0.22" >6</text>
<text x="543.2" y="568" font-size="14" font-weight="bold" fill="#111" text-anchor="middle" font-family="Liberation Sans, sans-serif" stroke="#111" stroke-width="0.22" >Reaction conditions</text>
<text x="357" y="424" font-size="14" font-weight="bold" fill="#111" text-anchor="middle" font-family="Liberation Sans, sans-serif" transform="rotate(-90 357 424)" stroke="#111" stroke-width="0.22" >% Degradation</text>
<text x="396" y="315.4" font-size="19" font-weight="bold" fill="#000" text-anchor="start" font-family="Liberation Serif, serif" >(d)</text>
<rect x="403.68" y="531.54" width="24.7" height="1.56" fill="#000080"/>
<text x="421.33" y="525.54" font-size="12.6" font-weight="bold" fill="#111" text-anchor="start" font-family="Liberation Sans, sans-serif" transform="rotate(-90 421.33 525.54)" stroke="#111" stroke-width="0.22" >1.12</text>
<rect x="452.15" y="515.85" width="24.7" height="17.25" fill="#800080"/>
<text x="469.8" y="509.85" font-size="12.6" font-weight="bold" fill="#111" text-anchor="start" font-family="Liberation Sans, sans-serif" transform="rotate(-90 469.8 509.85)" stroke="#111" stroke-width="0.22" >12.41</text>
<rect x="500.62" y="475.03" width="24.7" height="58.07" fill="#800000"/>
<text x="518.27" y="469.03" font-size="12.6" font-weight="bold" fill="#111" text-anchor="start" font-family="Liberation Sans, sans-serif" transform="rotate(-90 518.27 469.03)" stroke="#111" stroke-width="0.22" >41.78</text>
<rect x="549.08" y="445.47" width="24.7" height="87.63" fill="#008000"/>
<text x="566.73" y="439.47" font-size="12.6" font-weight="bold" fill="#111" text-anchor="start" font-family="Liberation Sans, sans-serif" transform="rotate(-90 566.73 439.47)" stroke="#111" stroke-width="0.22" >63.04</text>
<rect x="597.55" y="432.24" width="24.7" height="100.86" fill="#008080"/>
<text x="615.2" y="426.24" font-size="12.6" font-weight="bold" fill="#111" text-anchor="start" font-family="Liberation Sans, sans-serif" transform="rotate(-90 615.2 426.24)" stroke="#111" stroke-width="0.22" >72.56</text>
<rect x="646.02" y="395.56" width="24.7" height="137.54" fill="#0000a0"/>
<text x="663.67" y="389.56" font-size="12.6" font-weight="bold" fill="#111" text-anchor="start" font-family="Liberation Sans, sans-serif" transform="rotate(-90 663.67 389.56)" stroke="#111" stroke-width="0.22" >98.95</text>
<rect x="397" y="326.7" width="226.5" height="58.8" fill="#fff" stroke="#888" stroke-width="1"/>
<text x="411.7" y="342.3" font-size="10.8" font-weight="bold" fill="#111" font-family="Liberation Sans, sans-serif">1- <tspan fill="#8b1a1a">catayst + dark</tspan></text>
<text x="411.7" y="358.9" font-size="10.8" font-weight="bold" fill="#111" font-family="Liberation Sans, sans-serif">2- <tspan fill="#8b1a1a">photolysis</tspan></text>
<text x="411.7" y="375.8" font-size="10.8" font-weight="bold" fill="#111" font-family="Liberation Sans, sans-serif">3- <tspan fill="#8b1a1a">ZnS + H<tspan font-size="6.6" dy="4.3">2</tspan><tspan dy="-4.3">O</tspan><tspan font-size="6.6" dy="4.3">2</tspan></tspan></text>
<text x="507.4" y="342.3" font-size="10.8" font-weight="bold" fill="#111" font-family="Liberation Sans, sans-serif">4- <tspan fill="#8b1a1a">h-ZIF-8 + H<tspan font-size="6.6" dy="4.3">2</tspan><tspan dy="-4.3">O</tspan><tspan font-size="6.6" dy="4.3">2</tspan></tspan></text>
<text x="507.4" y="358.9" font-size="10.8" font-weight="bold" fill="#111" font-family="Liberation Sans, sans-serif">5- <tspan fill="#8b1a1a">Mo@h-ZIF-8 + H<tspan font-size="6.6" dy="4.3">2</tspan><tspan dy="-4.3">O</tspan><tspan font-size="6.6" dy="4.3">2</tspan></tspan></text>
<text x="507.4" y="375.8" font-size="10.8" font-weight="bold" fill="#111" font-family="Liberation Sans, sans-serif">6- <tspan fill="#8b1a1a">MZ@h-Z8 + H<tspan font-size="6.6" dy="4.3">2</tspan><tspan dy="-4.3">O</tspan><tspan font-size="6.6" dy="4.3">2</tspan></tspan></text>
</svg>
</body></html>
